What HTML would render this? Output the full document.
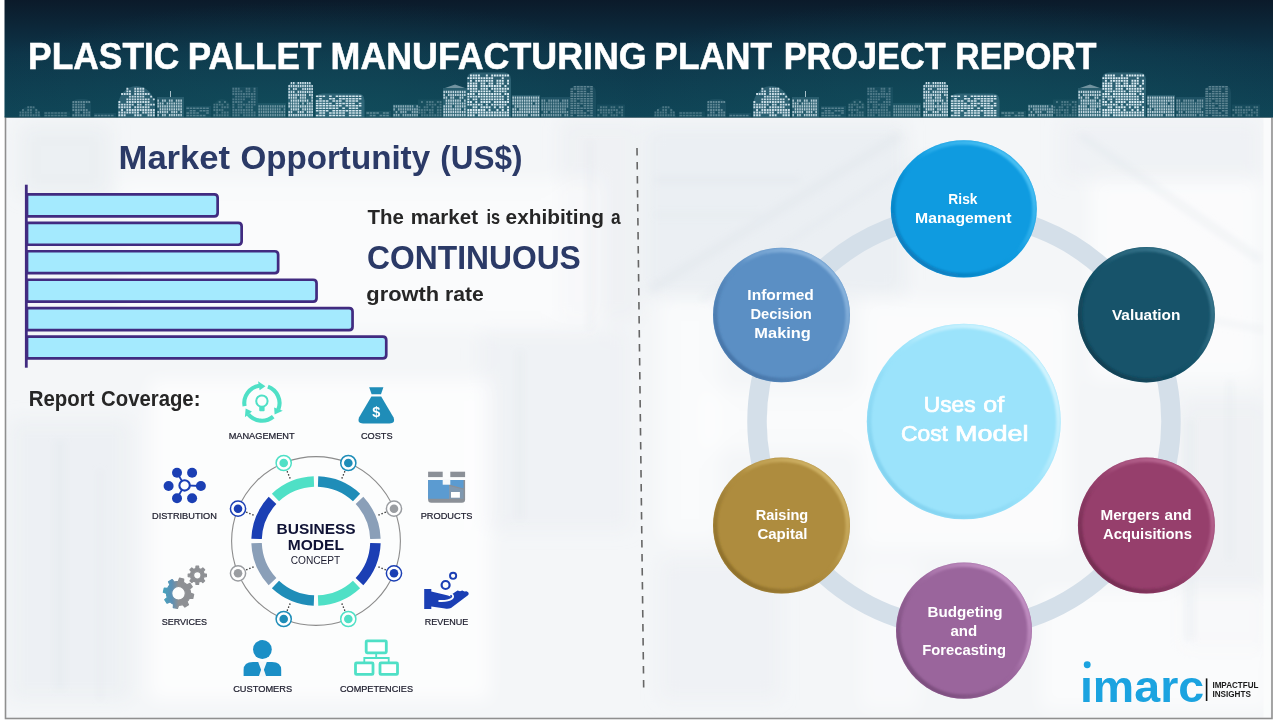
<!DOCTYPE html>
<html lang="en"><head><meta charset="utf-8"><title>Plastic Pallet Manufacturing Plant Project Report</title>
<style>html,body{margin:0;padding:0;background:#fff;width:1280px;height:720px;overflow:hidden}svg{display:block}</style>
</head><body>
<svg width="1280" height="720" viewBox="0 0 1280 720" font-family='"Liberation Sans", sans-serif'><defs><linearGradient id="hdr" x1="0" y1="0" x2="0" y2="1">
<stop offset="0" stop-color="#0b1a2a"/><stop offset="0.45" stop-color="#0d3448"/><stop offset="1" stop-color="#0f4456"/></linearGradient><radialGradient id="hdrv" cx="0.5" cy="1" r="0.62" gradientTransform="translate(0.5 1) scale(1 1.6) translate(-0.5 -1)"><stop offset="0" stop-color="#13525f" stop-opacity=".6"/><stop offset="1" stop-color="#13525f" stop-opacity="0"/></radialGradient><pattern id="w1" width="2.6" height="2.6" patternUnits="userSpaceOnUse"><rect x=".4" y=".4" width="1.8" height="1.8" fill="#e8f4fb"/></pattern><pattern id="w2" width="3" height="2.4" patternUnits="userSpaceOnUse"><rect x=".4" y=".4" width="2.2" height="1.5" fill="#e8f4fb"/></pattern><pattern id="w3" width="2.2" height="3" patternUnits="userSpaceOnUse"><rect x=".3" y=".4" width="1.5" height="2.1" fill="#e8f4fb"/></pattern><filter id="bl" x="-20%" y="-20%" width="140%" height="140%"><feGaussianBlur stdDeviation="9"/></filter><filter id="bl2" x="-20%" y="-20%" width="140%" height="140%"><feGaussianBlur stdDeviation="3"/></filter><clipPath id="pc"><rect x="5.5" y="117" width="1266.5" height="601.5"/></clipPath><g id="sky"><path d="M19 117.5V118.1A11.0 12.100000000000001 0 0 1 41 118.1V117.5Z" fill="#7fb2c6" opacity="0.07"/><path d="M19.4 114.3h1.9v1.9h-1.9zM22.0 114.3h1.9v1.9h-1.9zM24.7 114.3h1.9v1.9h-1.9zM27.3 114.3h1.9v1.9h-1.9zM30.0 114.3h1.9v1.9h-1.9zM32.6 114.3h1.9v1.9h-1.9zM35.3 114.3h1.9v1.9h-1.9zM37.9 114.3h1.9v1.9h-1.9zM19.4 111.6h1.9v1.9h-1.9zM22.0 111.6h1.9v1.9h-1.9zM24.7 111.6h1.9v1.9h-1.9zM27.3 111.6h1.9v1.9h-1.9zM30.0 111.6h1.9v1.9h-1.9zM35.3 111.6h1.9v1.9h-1.9zM37.9 111.6h1.9v1.9h-1.9zM22.0 109.0h1.9v1.9h-1.9zM27.3 109.0h1.9v1.9h-1.9zM30.0 109.0h1.9v1.9h-1.9zM35.3 109.0h1.9v1.9h-1.9zM27.3 106.3h1.9v1.9h-1.9zM30.0 106.3h1.9v1.9h-1.9zM32.6 106.3h1.9v1.9h-1.9z" fill="#e6f3fa" opacity="0.25"/><path d="M44 117.5V111.5H70V117.5Z" fill="#7fb2c6" opacity="0.07"/><path d="M44.4 114.7h2.6v1.5h-2.6zM47.7 114.7h2.6v1.5h-2.6zM51.0 114.7h2.6v1.5h-2.6zM54.3 114.7h2.6v1.5h-2.6zM57.6 114.7h2.6v1.5h-2.6zM60.9 114.7h2.6v1.5h-2.6zM64.2 114.7h2.6v1.5h-2.6zM44.4 112.3h2.6v1.5h-2.6zM47.7 112.3h2.6v1.5h-2.6zM51.0 112.3h2.6v1.5h-2.6zM54.3 112.3h2.6v1.5h-2.6zM57.6 112.3h2.6v1.5h-2.6zM60.9 112.3h2.6v1.5h-2.6zM64.2 112.3h2.6v1.5h-2.6z" fill="#e6f3fa" opacity="0.25"/><path d="M72 117.5V105.33333333333333Q72 99 78.33333333333333 99H84.66666666666667Q91 99 91 105.33333333333333V117.5Z" fill="#7fb2c6" opacity="0.10"/><path d="M72.4 114.3h1.9v1.9h-1.9zM75.1 114.3h1.9v1.9h-1.9zM77.7 114.3h1.9v1.9h-1.9zM80.4 114.3h1.9v1.9h-1.9zM83.0 114.3h1.9v1.9h-1.9zM85.7 114.3h1.9v1.9h-1.9zM88.3 114.3h1.9v1.9h-1.9zM75.1 111.6h1.9v1.9h-1.9zM77.7 111.6h1.9v1.9h-1.9zM83.0 111.6h1.9v1.9h-1.9zM85.7 111.6h1.9v1.9h-1.9zM88.3 111.6h1.9v1.9h-1.9zM72.4 109.0h1.9v1.9h-1.9zM75.1 109.0h1.9v1.9h-1.9zM77.7 109.0h1.9v1.9h-1.9zM80.4 109.0h1.9v1.9h-1.9zM83.0 109.0h1.9v1.9h-1.9zM85.7 109.0h1.9v1.9h-1.9zM72.4 106.3h1.9v1.9h-1.9zM75.1 106.3h1.9v1.9h-1.9zM77.7 106.3h1.9v1.9h-1.9zM80.4 106.3h1.9v1.9h-1.9zM83.0 106.3h1.9v1.9h-1.9zM72.4 103.7h1.9v1.9h-1.9zM75.1 103.7h1.9v1.9h-1.9zM77.7 103.7h1.9v1.9h-1.9zM80.4 103.7h1.9v1.9h-1.9zM83.0 103.7h1.9v1.9h-1.9zM72.4 101.0h1.9v1.9h-1.9zM75.1 101.0h1.9v1.9h-1.9zM77.7 101.0h1.9v1.9h-1.9zM80.4 101.0h1.9v1.9h-1.9zM83.0 101.0h1.9v1.9h-1.9zM85.7 101.0h1.9v1.9h-1.9zM88.3 101.0h1.9v1.9h-1.9z" fill="#e6f3fa" opacity="0.35"/><path d="M94 117.5V113H116V117.5Z" fill="#7fb2c6" opacity="0.09"/><path d="M94.4 114.7h2.6v1.5h-2.6zM97.7 114.7h2.6v1.5h-2.6zM101.0 114.7h2.6v1.5h-2.6zM104.3 114.7h2.6v1.5h-2.6zM107.6 114.7h2.6v1.5h-2.6zM110.9 114.7h2.6v1.5h-2.6z" fill="#e6f3fa" opacity="0.3"/><path d="M118 117.5V106.35A18.5 20.35 0 0 1 155 106.35V117.5Z" fill="#7fb2c6" opacity="0.26"/><path d="M118.4 114.3h1.9v1.9h-1.9zM121.1 114.3h1.9v1.9h-1.9zM123.7 114.3h1.9v1.9h-1.9zM134.3 114.3h1.9v1.9h-1.9zM137.0 114.3h1.9v1.9h-1.9zM139.6 114.3h1.9v1.9h-1.9zM147.6 114.3h1.9v1.9h-1.9zM150.2 114.3h1.9v1.9h-1.9zM152.9 114.3h1.9v1.9h-1.9zM118.4 111.6h1.9v1.9h-1.9zM121.1 111.6h1.9v1.9h-1.9zM123.7 111.6h1.9v1.9h-1.9zM126.4 111.6h1.9v1.9h-1.9zM129.0 111.6h1.9v1.9h-1.9zM131.7 111.6h1.9v1.9h-1.9zM134.3 111.6h1.9v1.9h-1.9zM137.0 111.6h1.9v1.9h-1.9zM142.3 111.6h1.9v1.9h-1.9zM144.9 111.6h1.9v1.9h-1.9zM147.6 111.6h1.9v1.9h-1.9zM150.2 111.6h1.9v1.9h-1.9zM152.9 111.6h1.9v1.9h-1.9zM121.1 109.0h1.9v1.9h-1.9zM126.4 109.0h1.9v1.9h-1.9zM129.0 109.0h1.9v1.9h-1.9zM131.7 109.0h1.9v1.9h-1.9zM134.3 109.0h1.9v1.9h-1.9zM137.0 109.0h1.9v1.9h-1.9zM139.6 109.0h1.9v1.9h-1.9zM142.3 109.0h1.9v1.9h-1.9zM144.9 109.0h1.9v1.9h-1.9zM147.6 109.0h1.9v1.9h-1.9zM150.2 109.0h1.9v1.9h-1.9zM152.9 109.0h1.9v1.9h-1.9zM118.4 106.3h1.9v1.9h-1.9zM121.1 106.3h1.9v1.9h-1.9zM123.7 106.3h1.9v1.9h-1.9zM126.4 106.3h1.9v1.9h-1.9zM129.0 106.3h1.9v1.9h-1.9zM134.3 106.3h1.9v1.9h-1.9zM137.0 106.3h1.9v1.9h-1.9zM139.6 106.3h1.9v1.9h-1.9zM142.3 106.3h1.9v1.9h-1.9zM144.9 106.3h1.9v1.9h-1.9zM147.6 106.3h1.9v1.9h-1.9zM118.4 103.7h1.9v1.9h-1.9zM121.1 103.7h1.9v1.9h-1.9zM123.7 103.7h1.9v1.9h-1.9zM126.4 103.7h1.9v1.9h-1.9zM129.0 103.7h1.9v1.9h-1.9zM131.7 103.7h1.9v1.9h-1.9zM137.0 103.7h1.9v1.9h-1.9zM139.6 103.7h1.9v1.9h-1.9zM144.9 103.7h1.9v1.9h-1.9zM147.6 103.7h1.9v1.9h-1.9zM150.2 103.7h1.9v1.9h-1.9zM152.9 103.7h1.9v1.9h-1.9zM118.4 101.0h1.9v1.9h-1.9zM126.4 101.0h1.9v1.9h-1.9zM129.0 101.0h1.9v1.9h-1.9zM131.7 101.0h1.9v1.9h-1.9zM134.3 101.0h1.9v1.9h-1.9zM137.0 101.0h1.9v1.9h-1.9zM139.6 101.0h1.9v1.9h-1.9zM142.3 101.0h1.9v1.9h-1.9zM144.9 101.0h1.9v1.9h-1.9zM147.6 101.0h1.9v1.9h-1.9zM126.4 98.4h1.9v1.9h-1.9zM129.0 98.4h1.9v1.9h-1.9zM131.7 98.4h1.9v1.9h-1.9zM134.3 98.4h1.9v1.9h-1.9zM137.0 98.4h1.9v1.9h-1.9zM139.6 98.4h1.9v1.9h-1.9zM142.3 98.4h1.9v1.9h-1.9zM144.9 98.4h1.9v1.9h-1.9zM147.6 98.4h1.9v1.9h-1.9zM152.9 98.4h1.9v1.9h-1.9zM129.0 95.7h1.9v1.9h-1.9zM131.7 95.7h1.9v1.9h-1.9zM134.3 95.7h1.9v1.9h-1.9zM137.0 95.7h1.9v1.9h-1.9zM139.6 95.7h1.9v1.9h-1.9zM142.3 95.7h1.9v1.9h-1.9zM150.2 95.7h1.9v1.9h-1.9zM121.1 93.1h1.9v1.9h-1.9zM123.7 93.1h1.9v1.9h-1.9zM126.4 93.1h1.9v1.9h-1.9zM129.0 93.1h1.9v1.9h-1.9zM134.3 93.1h1.9v1.9h-1.9zM137.0 93.1h1.9v1.9h-1.9zM139.6 93.1h1.9v1.9h-1.9zM142.3 93.1h1.9v1.9h-1.9zM144.9 93.1h1.9v1.9h-1.9zM147.6 93.1h1.9v1.9h-1.9zM126.4 90.4h1.9v1.9h-1.9zM129.0 90.4h1.9v1.9h-1.9zM134.3 90.4h1.9v1.9h-1.9zM137.0 90.4h1.9v1.9h-1.9zM139.6 90.4h1.9v1.9h-1.9zM142.3 90.4h1.9v1.9h-1.9zM126.4 87.8h1.9v1.9h-1.9zM134.3 87.8h1.9v1.9h-1.9zM137.0 87.8h1.9v1.9h-1.9zM139.6 87.8h1.9v1.9h-1.9zM142.3 87.8h1.9v1.9h-1.9z" fill="#e6f3fa" opacity="0.85"/><path d="M157 117.5V97H184V117.5Z" fill="#7fb2c6" opacity="0.22"/><path d="M157.4 114.0h1.5v2.2h-1.5zM162.0 114.0h1.5v2.2h-1.5zM164.3 114.0h1.5v2.2h-1.5zM168.9 114.0h1.5v2.2h-1.5zM171.2 114.0h1.5v2.2h-1.5zM173.5 114.0h1.5v2.2h-1.5zM175.8 114.0h1.5v2.2h-1.5zM178.1 114.0h1.5v2.2h-1.5zM180.4 114.0h1.5v2.2h-1.5zM157.4 111.1h1.5v2.2h-1.5zM159.7 111.1h1.5v2.2h-1.5zM162.0 111.1h1.5v2.2h-1.5zM164.3 111.1h1.5v2.2h-1.5zM166.6 111.1h1.5v2.2h-1.5zM171.2 111.1h1.5v2.2h-1.5zM173.5 111.1h1.5v2.2h-1.5zM175.8 111.1h1.5v2.2h-1.5zM180.4 111.1h1.5v2.2h-1.5zM159.7 108.2h1.5v2.2h-1.5zM162.0 108.2h1.5v2.2h-1.5zM164.3 108.2h1.5v2.2h-1.5zM166.6 108.2h1.5v2.2h-1.5zM168.9 108.2h1.5v2.2h-1.5zM171.2 108.2h1.5v2.2h-1.5zM173.5 108.2h1.5v2.2h-1.5zM175.8 108.2h1.5v2.2h-1.5zM178.1 108.2h1.5v2.2h-1.5zM180.4 108.2h1.5v2.2h-1.5zM157.4 105.3h1.5v2.2h-1.5zM159.7 105.3h1.5v2.2h-1.5zM162.0 105.3h1.5v2.2h-1.5zM164.3 105.3h1.5v2.2h-1.5zM166.6 105.3h1.5v2.2h-1.5zM168.9 105.3h1.5v2.2h-1.5zM171.2 105.3h1.5v2.2h-1.5zM173.5 105.3h1.5v2.2h-1.5zM175.8 105.3h1.5v2.2h-1.5zM178.1 105.3h1.5v2.2h-1.5zM180.4 105.3h1.5v2.2h-1.5zM157.4 102.4h1.5v2.2h-1.5zM159.7 102.4h1.5v2.2h-1.5zM162.0 102.4h1.5v2.2h-1.5zM166.6 102.4h1.5v2.2h-1.5zM168.9 102.4h1.5v2.2h-1.5zM171.2 102.4h1.5v2.2h-1.5zM173.5 102.4h1.5v2.2h-1.5zM175.8 102.4h1.5v2.2h-1.5zM178.1 102.4h1.5v2.2h-1.5zM180.4 102.4h1.5v2.2h-1.5zM157.4 99.5h1.5v2.2h-1.5zM162.0 99.5h1.5v2.2h-1.5zM164.3 99.5h1.5v2.2h-1.5zM168.9 99.5h1.5v2.2h-1.5zM171.2 99.5h1.5v2.2h-1.5zM175.8 99.5h1.5v2.2h-1.5zM178.1 99.5h1.5v2.2h-1.5zM180.4 99.5h1.5v2.2h-1.5z" fill="#e6f3fa" opacity="0.75"/><path d="M186 117.5V106H211V117.5Z" fill="#7fb2c6" opacity="0.09"/><path d="M186.4 114.7h2.6v1.5h-2.6zM189.7 114.7h2.6v1.5h-2.6zM193.0 114.7h2.6v1.5h-2.6zM196.3 114.7h2.6v1.5h-2.6zM199.6 114.7h2.6v1.5h-2.6zM202.9 114.7h2.6v1.5h-2.6zM186.4 112.3h2.6v1.5h-2.6zM189.7 112.3h2.6v1.5h-2.6zM193.0 112.3h2.6v1.5h-2.6zM196.3 112.3h2.6v1.5h-2.6zM206.2 112.3h2.6v1.5h-2.6zM189.7 109.9h2.6v1.5h-2.6zM193.0 109.9h2.6v1.5h-2.6zM199.6 109.9h2.6v1.5h-2.6zM202.9 109.9h2.6v1.5h-2.6zM206.2 109.9h2.6v1.5h-2.6zM186.4 107.5h2.6v1.5h-2.6zM189.7 107.5h2.6v1.5h-2.6zM193.0 107.5h2.6v1.5h-2.6zM196.3 107.5h2.6v1.5h-2.6zM199.6 107.5h2.6v1.5h-2.6zM202.9 107.5h2.6v1.5h-2.6zM206.2 107.5h2.6v1.5h-2.6z" fill="#e6f3fa" opacity="0.3"/><path d="M213 117.5V108.9A9.0 9.9 0 0 1 231 108.9V117.5Z" fill="#7fb2c6" opacity="0.07"/><path d="M213.4 114.3h1.9v1.9h-1.9zM216.1 114.3h1.9v1.9h-1.9zM218.7 114.3h1.9v1.9h-1.9zM221.4 114.3h1.9v1.9h-1.9zM224.0 114.3h1.9v1.9h-1.9zM226.7 114.3h1.9v1.9h-1.9zM216.1 111.6h1.9v1.9h-1.9zM221.4 111.6h1.9v1.9h-1.9zM224.0 111.6h1.9v1.9h-1.9zM226.7 111.6h1.9v1.9h-1.9zM213.4 109.0h1.9v1.9h-1.9zM216.1 109.0h1.9v1.9h-1.9zM218.7 109.0h1.9v1.9h-1.9zM221.4 109.0h1.9v1.9h-1.9zM213.4 106.3h1.9v1.9h-1.9zM216.1 106.3h1.9v1.9h-1.9zM221.4 106.3h1.9v1.9h-1.9zM224.0 106.3h1.9v1.9h-1.9zM226.7 106.3h1.9v1.9h-1.9zM213.4 103.7h1.9v1.9h-1.9zM216.1 103.7h1.9v1.9h-1.9zM218.7 103.7h1.9v1.9h-1.9zM221.4 103.7h1.9v1.9h-1.9zM226.7 103.7h1.9v1.9h-1.9zM218.7 101.0h1.9v1.9h-1.9zM224.0 101.0h1.9v1.9h-1.9z" fill="#e6f3fa" opacity="0.25"/><path d="M232 117.5V87H258V117.5Z" fill="#7fb2c6" opacity="0.08"/><path d="M232.4 114.3h1.9v1.9h-1.9zM235.1 114.3h1.9v1.9h-1.9zM237.7 114.3h1.9v1.9h-1.9zM243.0 114.3h1.9v1.9h-1.9zM245.7 114.3h1.9v1.9h-1.9zM248.3 114.3h1.9v1.9h-1.9zM251.0 114.3h1.9v1.9h-1.9zM253.6 114.3h1.9v1.9h-1.9zM232.4 111.6h1.9v1.9h-1.9zM235.1 111.6h1.9v1.9h-1.9zM237.7 111.6h1.9v1.9h-1.9zM240.4 111.6h1.9v1.9h-1.9zM243.0 111.6h1.9v1.9h-1.9zM245.7 111.6h1.9v1.9h-1.9zM248.3 111.6h1.9v1.9h-1.9zM251.0 111.6h1.9v1.9h-1.9zM253.6 111.6h1.9v1.9h-1.9zM232.4 109.0h1.9v1.9h-1.9zM235.1 109.0h1.9v1.9h-1.9zM237.7 109.0h1.9v1.9h-1.9zM240.4 109.0h1.9v1.9h-1.9zM243.0 109.0h1.9v1.9h-1.9zM245.7 109.0h1.9v1.9h-1.9zM248.3 109.0h1.9v1.9h-1.9zM251.0 109.0h1.9v1.9h-1.9zM232.4 106.3h1.9v1.9h-1.9zM237.7 106.3h1.9v1.9h-1.9zM240.4 106.3h1.9v1.9h-1.9zM245.7 106.3h1.9v1.9h-1.9zM248.3 106.3h1.9v1.9h-1.9zM251.0 106.3h1.9v1.9h-1.9zM232.4 103.7h1.9v1.9h-1.9zM237.7 103.7h1.9v1.9h-1.9zM240.4 103.7h1.9v1.9h-1.9zM243.0 103.7h1.9v1.9h-1.9zM245.7 103.7h1.9v1.9h-1.9zM248.3 103.7h1.9v1.9h-1.9zM251.0 103.7h1.9v1.9h-1.9zM253.6 103.7h1.9v1.9h-1.9zM232.4 101.0h1.9v1.9h-1.9zM235.1 101.0h1.9v1.9h-1.9zM237.7 101.0h1.9v1.9h-1.9zM240.4 101.0h1.9v1.9h-1.9zM248.3 101.0h1.9v1.9h-1.9zM251.0 101.0h1.9v1.9h-1.9zM253.6 101.0h1.9v1.9h-1.9zM232.4 98.4h1.9v1.9h-1.9zM235.1 98.4h1.9v1.9h-1.9zM237.7 98.4h1.9v1.9h-1.9zM240.4 98.4h1.9v1.9h-1.9zM243.0 98.4h1.9v1.9h-1.9zM251.0 98.4h1.9v1.9h-1.9zM253.6 98.4h1.9v1.9h-1.9zM235.1 95.7h1.9v1.9h-1.9zM237.7 95.7h1.9v1.9h-1.9zM240.4 95.7h1.9v1.9h-1.9zM243.0 95.7h1.9v1.9h-1.9zM245.7 95.7h1.9v1.9h-1.9zM248.3 95.7h1.9v1.9h-1.9zM251.0 95.7h1.9v1.9h-1.9zM253.6 95.7h1.9v1.9h-1.9zM232.4 93.1h1.9v1.9h-1.9zM235.1 93.1h1.9v1.9h-1.9zM237.7 93.1h1.9v1.9h-1.9zM240.4 93.1h1.9v1.9h-1.9zM243.0 93.1h1.9v1.9h-1.9zM245.7 93.1h1.9v1.9h-1.9zM248.3 93.1h1.9v1.9h-1.9zM251.0 93.1h1.9v1.9h-1.9zM253.6 93.1h1.9v1.9h-1.9zM232.4 90.4h1.9v1.9h-1.9zM235.1 90.4h1.9v1.9h-1.9zM237.7 90.4h1.9v1.9h-1.9zM240.4 90.4h1.9v1.9h-1.9zM245.7 90.4h1.9v1.9h-1.9zM248.3 90.4h1.9v1.9h-1.9zM253.6 90.4h1.9v1.9h-1.9zM232.4 87.8h1.9v1.9h-1.9zM235.1 87.8h1.9v1.9h-1.9zM237.7 87.8h1.9v1.9h-1.9zM245.7 87.8h1.9v1.9h-1.9zM248.3 87.8h1.9v1.9h-1.9zM253.6 87.8h1.9v1.9h-1.9z" fill="#e6f3fa" opacity="0.26"/><path d="M258 117.5V103H286V117.5Z" fill="#7fb2c6" opacity="0.12"/><path d="M258.4 114.0h1.5v2.2h-1.5zM260.7 114.0h1.5v2.2h-1.5zM263.0 114.0h1.5v2.2h-1.5zM265.3 114.0h1.5v2.2h-1.5zM267.6 114.0h1.5v2.2h-1.5zM269.9 114.0h1.5v2.2h-1.5zM272.2 114.0h1.5v2.2h-1.5zM274.5 114.0h1.5v2.2h-1.5zM276.8 114.0h1.5v2.2h-1.5zM279.1 114.0h1.5v2.2h-1.5zM281.4 114.0h1.5v2.2h-1.5zM283.7 114.0h1.5v2.2h-1.5zM258.4 111.1h1.5v2.2h-1.5zM260.7 111.1h1.5v2.2h-1.5zM263.0 111.1h1.5v2.2h-1.5zM265.3 111.1h1.5v2.2h-1.5zM267.6 111.1h1.5v2.2h-1.5zM269.9 111.1h1.5v2.2h-1.5zM272.2 111.1h1.5v2.2h-1.5zM274.5 111.1h1.5v2.2h-1.5zM276.8 111.1h1.5v2.2h-1.5zM279.1 111.1h1.5v2.2h-1.5zM281.4 111.1h1.5v2.2h-1.5zM283.7 111.1h1.5v2.2h-1.5zM258.4 108.2h1.5v2.2h-1.5zM260.7 108.2h1.5v2.2h-1.5zM263.0 108.2h1.5v2.2h-1.5zM265.3 108.2h1.5v2.2h-1.5zM267.6 108.2h1.5v2.2h-1.5zM269.9 108.2h1.5v2.2h-1.5zM272.2 108.2h1.5v2.2h-1.5zM274.5 108.2h1.5v2.2h-1.5zM276.8 108.2h1.5v2.2h-1.5zM279.1 108.2h1.5v2.2h-1.5zM283.7 108.2h1.5v2.2h-1.5zM258.4 105.3h1.5v2.2h-1.5zM260.7 105.3h1.5v2.2h-1.5zM263.0 105.3h1.5v2.2h-1.5zM265.3 105.3h1.5v2.2h-1.5zM267.6 105.3h1.5v2.2h-1.5zM269.9 105.3h1.5v2.2h-1.5zM272.2 105.3h1.5v2.2h-1.5zM274.5 105.3h1.5v2.2h-1.5zM276.8 105.3h1.5v2.2h-1.5zM279.1 105.3h1.5v2.2h-1.5zM281.4 105.3h1.5v2.2h-1.5zM283.7 105.3h1.5v2.2h-1.5z" fill="#e6f3fa" opacity="0.4"/><path d="M288 117.5V89Q288 82 295 82H306Q313 82 313 89V117.5Z" fill="#7fb2c6" opacity="0.26"/><path d="M288.4 114.0h1.5v2.2h-1.5zM290.7 114.0h1.5v2.2h-1.5zM293.0 114.0h1.5v2.2h-1.5zM295.3 114.0h1.5v2.2h-1.5zM297.6 114.0h1.5v2.2h-1.5zM299.9 114.0h1.5v2.2h-1.5zM302.2 114.0h1.5v2.2h-1.5zM304.5 114.0h1.5v2.2h-1.5zM306.8 114.0h1.5v2.2h-1.5zM309.1 114.0h1.5v2.2h-1.5zM311.4 114.0h1.5v2.2h-1.5zM288.4 111.1h1.5v2.2h-1.5zM290.7 111.1h1.5v2.2h-1.5zM297.6 111.1h1.5v2.2h-1.5zM299.9 111.1h1.5v2.2h-1.5zM302.2 111.1h1.5v2.2h-1.5zM306.8 111.1h1.5v2.2h-1.5zM309.1 111.1h1.5v2.2h-1.5zM311.4 111.1h1.5v2.2h-1.5zM290.7 108.2h1.5v2.2h-1.5zM293.0 108.2h1.5v2.2h-1.5zM295.3 108.2h1.5v2.2h-1.5zM297.6 108.2h1.5v2.2h-1.5zM302.2 108.2h1.5v2.2h-1.5zM304.5 108.2h1.5v2.2h-1.5zM306.8 108.2h1.5v2.2h-1.5zM309.1 108.2h1.5v2.2h-1.5zM311.4 108.2h1.5v2.2h-1.5zM288.4 105.3h1.5v2.2h-1.5zM290.7 105.3h1.5v2.2h-1.5zM293.0 105.3h1.5v2.2h-1.5zM295.3 105.3h1.5v2.2h-1.5zM297.6 105.3h1.5v2.2h-1.5zM299.9 105.3h1.5v2.2h-1.5zM302.2 105.3h1.5v2.2h-1.5zM304.5 105.3h1.5v2.2h-1.5zM306.8 105.3h1.5v2.2h-1.5zM309.1 105.3h1.5v2.2h-1.5zM311.4 105.3h1.5v2.2h-1.5zM288.4 102.4h1.5v2.2h-1.5zM290.7 102.4h1.5v2.2h-1.5zM293.0 102.4h1.5v2.2h-1.5zM295.3 102.4h1.5v2.2h-1.5zM297.6 102.4h1.5v2.2h-1.5zM302.2 102.4h1.5v2.2h-1.5zM306.8 102.4h1.5v2.2h-1.5zM309.1 102.4h1.5v2.2h-1.5zM311.4 102.4h1.5v2.2h-1.5zM290.7 99.5h1.5v2.2h-1.5zM293.0 99.5h1.5v2.2h-1.5zM295.3 99.5h1.5v2.2h-1.5zM297.6 99.5h1.5v2.2h-1.5zM299.9 99.5h1.5v2.2h-1.5zM302.2 99.5h1.5v2.2h-1.5zM304.5 99.5h1.5v2.2h-1.5zM306.8 99.5h1.5v2.2h-1.5zM311.4 99.5h1.5v2.2h-1.5zM288.4 96.6h1.5v2.2h-1.5zM290.7 96.6h1.5v2.2h-1.5zM293.0 96.6h1.5v2.2h-1.5zM295.3 96.6h1.5v2.2h-1.5zM299.9 96.6h1.5v2.2h-1.5zM302.2 96.6h1.5v2.2h-1.5zM304.5 96.6h1.5v2.2h-1.5zM311.4 96.6h1.5v2.2h-1.5zM288.4 93.7h1.5v2.2h-1.5zM290.7 93.7h1.5v2.2h-1.5zM293.0 93.7h1.5v2.2h-1.5zM295.3 93.7h1.5v2.2h-1.5zM297.6 93.7h1.5v2.2h-1.5zM299.9 93.7h1.5v2.2h-1.5zM302.2 93.7h1.5v2.2h-1.5zM304.5 93.7h1.5v2.2h-1.5zM309.1 93.7h1.5v2.2h-1.5zM311.4 93.7h1.5v2.2h-1.5zM288.4 90.8h1.5v2.2h-1.5zM290.7 90.8h1.5v2.2h-1.5zM293.0 90.8h1.5v2.2h-1.5zM297.6 90.8h1.5v2.2h-1.5zM299.9 90.8h1.5v2.2h-1.5zM302.2 90.8h1.5v2.2h-1.5zM304.5 90.8h1.5v2.2h-1.5zM306.8 90.8h1.5v2.2h-1.5zM309.1 90.8h1.5v2.2h-1.5zM311.4 90.8h1.5v2.2h-1.5zM288.4 87.9h1.5v2.2h-1.5zM293.0 87.9h1.5v2.2h-1.5zM295.3 87.9h1.5v2.2h-1.5zM302.2 87.9h1.5v2.2h-1.5zM304.5 87.9h1.5v2.2h-1.5zM306.8 87.9h1.5v2.2h-1.5zM309.1 87.9h1.5v2.2h-1.5zM311.4 87.9h1.5v2.2h-1.5zM288.4 85.0h1.5v2.2h-1.5zM290.7 85.0h1.5v2.2h-1.5zM293.0 85.0h1.5v2.2h-1.5zM295.3 85.0h1.5v2.2h-1.5zM297.6 85.0h1.5v2.2h-1.5zM299.9 85.0h1.5v2.2h-1.5zM302.2 85.0h1.5v2.2h-1.5zM304.5 85.0h1.5v2.2h-1.5zM306.8 85.0h1.5v2.2h-1.5zM309.1 85.0h1.5v2.2h-1.5zM311.4 85.0h1.5v2.2h-1.5zM290.7 82.1h1.5v2.2h-1.5zM293.0 82.1h1.5v2.2h-1.5zM297.6 82.1h1.5v2.2h-1.5zM299.9 82.1h1.5v2.2h-1.5zM302.2 82.1h1.5v2.2h-1.5zM304.5 82.1h1.5v2.2h-1.5zM306.8 82.1h1.5v2.2h-1.5zM309.1 82.1h1.5v2.2h-1.5z" fill="#e6f3fa" opacity="0.85"/><path d="M315.5 117.5V100.5Q315.5 93.5 322.5 93.5H357.5Q364.5 93.5 364.5 100.5V117.5Z" fill="#7fb2c6" opacity="0.27"/><path d="M315.9 114.7h2.6v1.5h-2.6zM319.2 114.7h2.6v1.5h-2.6zM322.5 114.7h2.6v1.5h-2.6zM329.1 114.7h2.6v1.5h-2.6zM332.4 114.7h2.6v1.5h-2.6zM335.7 114.7h2.6v1.5h-2.6zM339.0 114.7h2.6v1.5h-2.6zM342.3 114.7h2.6v1.5h-2.6zM348.9 114.7h2.6v1.5h-2.6zM352.2 114.7h2.6v1.5h-2.6zM355.5 114.7h2.6v1.5h-2.6zM358.8 114.7h2.6v1.5h-2.6zM319.2 112.3h2.6v1.5h-2.6zM322.5 112.3h2.6v1.5h-2.6zM329.1 112.3h2.6v1.5h-2.6zM332.4 112.3h2.6v1.5h-2.6zM335.7 112.3h2.6v1.5h-2.6zM339.0 112.3h2.6v1.5h-2.6zM342.3 112.3h2.6v1.5h-2.6zM348.9 112.3h2.6v1.5h-2.6zM352.2 112.3h2.6v1.5h-2.6zM355.5 112.3h2.6v1.5h-2.6zM358.8 112.3h2.6v1.5h-2.6zM315.9 109.9h2.6v1.5h-2.6zM319.2 109.9h2.6v1.5h-2.6zM322.5 109.9h2.6v1.5h-2.6zM325.8 109.9h2.6v1.5h-2.6zM332.4 109.9h2.6v1.5h-2.6zM335.7 109.9h2.6v1.5h-2.6zM339.0 109.9h2.6v1.5h-2.6zM342.3 109.9h2.6v1.5h-2.6zM345.6 109.9h2.6v1.5h-2.6zM348.9 109.9h2.6v1.5h-2.6zM352.2 109.9h2.6v1.5h-2.6zM355.5 109.9h2.6v1.5h-2.6zM358.8 109.9h2.6v1.5h-2.6zM315.9 107.5h2.6v1.5h-2.6zM319.2 107.5h2.6v1.5h-2.6zM322.5 107.5h2.6v1.5h-2.6zM325.8 107.5h2.6v1.5h-2.6zM329.1 107.5h2.6v1.5h-2.6zM332.4 107.5h2.6v1.5h-2.6zM335.7 107.5h2.6v1.5h-2.6zM342.3 107.5h2.6v1.5h-2.6zM348.9 107.5h2.6v1.5h-2.6zM352.2 107.5h2.6v1.5h-2.6zM355.5 107.5h2.6v1.5h-2.6zM315.9 105.1h2.6v1.5h-2.6zM319.2 105.1h2.6v1.5h-2.6zM322.5 105.1h2.6v1.5h-2.6zM325.8 105.1h2.6v1.5h-2.6zM329.1 105.1h2.6v1.5h-2.6zM332.4 105.1h2.6v1.5h-2.6zM335.7 105.1h2.6v1.5h-2.6zM339.0 105.1h2.6v1.5h-2.6zM345.6 105.1h2.6v1.5h-2.6zM348.9 105.1h2.6v1.5h-2.6zM352.2 105.1h2.6v1.5h-2.6zM355.5 105.1h2.6v1.5h-2.6zM358.8 105.1h2.6v1.5h-2.6zM315.9 102.7h2.6v1.5h-2.6zM319.2 102.7h2.6v1.5h-2.6zM322.5 102.7h2.6v1.5h-2.6zM325.8 102.7h2.6v1.5h-2.6zM329.1 102.7h2.6v1.5h-2.6zM335.7 102.7h2.6v1.5h-2.6zM339.0 102.7h2.6v1.5h-2.6zM342.3 102.7h2.6v1.5h-2.6zM345.6 102.7h2.6v1.5h-2.6zM348.9 102.7h2.6v1.5h-2.6zM352.2 102.7h2.6v1.5h-2.6zM358.8 102.7h2.6v1.5h-2.6zM315.9 100.3h2.6v1.5h-2.6zM319.2 100.3h2.6v1.5h-2.6zM322.5 100.3h2.6v1.5h-2.6zM325.8 100.3h2.6v1.5h-2.6zM332.4 100.3h2.6v1.5h-2.6zM335.7 100.3h2.6v1.5h-2.6zM339.0 100.3h2.6v1.5h-2.6zM345.6 100.3h2.6v1.5h-2.6zM348.9 100.3h2.6v1.5h-2.6zM352.2 100.3h2.6v1.5h-2.6zM355.5 100.3h2.6v1.5h-2.6zM319.2 97.9h2.6v1.5h-2.6zM329.1 97.9h2.6v1.5h-2.6zM332.4 97.9h2.6v1.5h-2.6zM339.0 97.9h2.6v1.5h-2.6zM342.3 97.9h2.6v1.5h-2.6zM345.6 97.9h2.6v1.5h-2.6zM348.9 97.9h2.6v1.5h-2.6zM352.2 97.9h2.6v1.5h-2.6zM355.5 97.9h2.6v1.5h-2.6zM358.8 97.9h2.6v1.5h-2.6zM315.9 95.5h2.6v1.5h-2.6zM319.2 95.5h2.6v1.5h-2.6zM322.5 95.5h2.6v1.5h-2.6zM329.1 95.5h2.6v1.5h-2.6zM335.7 95.5h2.6v1.5h-2.6zM339.0 95.5h2.6v1.5h-2.6zM342.3 95.5h2.6v1.5h-2.6zM345.6 95.5h2.6v1.5h-2.6zM348.9 95.5h2.6v1.5h-2.6zM352.2 95.5h2.6v1.5h-2.6zM355.5 95.5h2.6v1.5h-2.6zM358.8 95.5h2.6v1.5h-2.6z" fill="#e6f3fa" opacity="0.9"/><path d="M366 117.5V111H391V117.5Z" fill="#7fb2c6" opacity="0.10"/><path d="M369.7 114.7h2.6v1.5h-2.6zM373.0 114.7h2.6v1.5h-2.6zM379.6 114.7h2.6v1.5h-2.6zM382.9 114.7h2.6v1.5h-2.6zM386.2 114.7h2.6v1.5h-2.6zM366.4 112.3h2.6v1.5h-2.6zM369.7 112.3h2.6v1.5h-2.6zM373.0 112.3h2.6v1.5h-2.6zM376.3 112.3h2.6v1.5h-2.6zM382.9 112.3h2.6v1.5h-2.6zM386.2 112.3h2.6v1.5h-2.6z" fill="#e6f3fa" opacity="0.35"/><path d="M393 117.5V104.5H418V117.5Z" fill="#7fb2c6" opacity="0.17"/><path d="M393.4 114.0h1.5v2.2h-1.5zM395.7 114.0h1.5v2.2h-1.5zM398.0 114.0h1.5v2.2h-1.5zM402.6 114.0h1.5v2.2h-1.5zM404.9 114.0h1.5v2.2h-1.5zM407.2 114.0h1.5v2.2h-1.5zM409.5 114.0h1.5v2.2h-1.5zM411.8 114.0h1.5v2.2h-1.5zM414.1 114.0h1.5v2.2h-1.5zM416.4 114.0h1.5v2.2h-1.5zM395.7 111.1h1.5v2.2h-1.5zM400.3 111.1h1.5v2.2h-1.5zM402.6 111.1h1.5v2.2h-1.5zM404.9 111.1h1.5v2.2h-1.5zM411.8 111.1h1.5v2.2h-1.5zM414.1 111.1h1.5v2.2h-1.5zM416.4 111.1h1.5v2.2h-1.5zM393.4 108.2h1.5v2.2h-1.5zM398.0 108.2h1.5v2.2h-1.5zM400.3 108.2h1.5v2.2h-1.5zM402.6 108.2h1.5v2.2h-1.5zM404.9 108.2h1.5v2.2h-1.5zM407.2 108.2h1.5v2.2h-1.5zM409.5 108.2h1.5v2.2h-1.5zM411.8 108.2h1.5v2.2h-1.5zM414.1 108.2h1.5v2.2h-1.5zM416.4 108.2h1.5v2.2h-1.5zM393.4 105.3h1.5v2.2h-1.5zM395.7 105.3h1.5v2.2h-1.5zM398.0 105.3h1.5v2.2h-1.5zM400.3 105.3h1.5v2.2h-1.5zM402.6 105.3h1.5v2.2h-1.5zM404.9 105.3h1.5v2.2h-1.5zM407.2 105.3h1.5v2.2h-1.5zM409.5 105.3h1.5v2.2h-1.5zM411.8 105.3h1.5v2.2h-1.5zM416.4 105.3h1.5v2.2h-1.5z" fill="#e6f3fa" opacity="0.55"/><path d="M418 117.5V99.5H443V117.5Z" fill="#7fb2c6" opacity="0.07"/><path d="M421.0 114.3h1.9v1.9h-1.9zM423.7 114.3h1.9v1.9h-1.9zM426.3 114.3h1.9v1.9h-1.9zM429.0 114.3h1.9v1.9h-1.9zM431.6 114.3h1.9v1.9h-1.9zM434.3 114.3h1.9v1.9h-1.9zM436.9 114.3h1.9v1.9h-1.9zM439.6 114.3h1.9v1.9h-1.9zM418.4 111.6h1.9v1.9h-1.9zM421.0 111.6h1.9v1.9h-1.9zM423.7 111.6h1.9v1.9h-1.9zM429.0 111.6h1.9v1.9h-1.9zM431.6 111.6h1.9v1.9h-1.9zM436.9 111.6h1.9v1.9h-1.9zM439.6 111.6h1.9v1.9h-1.9zM418.4 109.0h1.9v1.9h-1.9zM421.0 109.0h1.9v1.9h-1.9zM423.7 109.0h1.9v1.9h-1.9zM426.3 109.0h1.9v1.9h-1.9zM429.0 109.0h1.9v1.9h-1.9zM431.6 109.0h1.9v1.9h-1.9zM436.9 109.0h1.9v1.9h-1.9zM439.6 109.0h1.9v1.9h-1.9zM418.4 106.3h1.9v1.9h-1.9zM423.7 106.3h1.9v1.9h-1.9zM426.3 106.3h1.9v1.9h-1.9zM431.6 106.3h1.9v1.9h-1.9zM436.9 106.3h1.9v1.9h-1.9zM439.6 106.3h1.9v1.9h-1.9zM426.3 103.7h1.9v1.9h-1.9zM429.0 103.7h1.9v1.9h-1.9zM431.6 103.7h1.9v1.9h-1.9zM434.3 103.7h1.9v1.9h-1.9zM439.6 103.7h1.9v1.9h-1.9zM421.0 101.0h1.9v1.9h-1.9zM426.3 101.0h1.9v1.9h-1.9zM429.0 101.0h1.9v1.9h-1.9zM431.6 101.0h1.9v1.9h-1.9zM436.9 101.0h1.9v1.9h-1.9zM439.6 101.0h1.9v1.9h-1.9z" fill="#e6f3fa" opacity="0.25"/><path d="M443 117.5V88H467V117.5Z" fill="#7fb2c6" opacity="0.24"/><path d="M443.4 114.0h1.5v2.2h-1.5zM445.7 114.0h1.5v2.2h-1.5zM448.0 114.0h1.5v2.2h-1.5zM450.3 114.0h1.5v2.2h-1.5zM452.6 114.0h1.5v2.2h-1.5zM454.9 114.0h1.5v2.2h-1.5zM457.2 114.0h1.5v2.2h-1.5zM459.5 114.0h1.5v2.2h-1.5zM461.8 114.0h1.5v2.2h-1.5zM464.1 114.0h1.5v2.2h-1.5zM443.4 111.1h1.5v2.2h-1.5zM445.7 111.1h1.5v2.2h-1.5zM448.0 111.1h1.5v2.2h-1.5zM450.3 111.1h1.5v2.2h-1.5zM452.6 111.1h1.5v2.2h-1.5zM454.9 111.1h1.5v2.2h-1.5zM457.2 111.1h1.5v2.2h-1.5zM459.5 111.1h1.5v2.2h-1.5zM461.8 111.1h1.5v2.2h-1.5zM464.1 111.1h1.5v2.2h-1.5zM443.4 108.2h1.5v2.2h-1.5zM445.7 108.2h1.5v2.2h-1.5zM448.0 108.2h1.5v2.2h-1.5zM450.3 108.2h1.5v2.2h-1.5zM452.6 108.2h1.5v2.2h-1.5zM454.9 108.2h1.5v2.2h-1.5zM457.2 108.2h1.5v2.2h-1.5zM459.5 108.2h1.5v2.2h-1.5zM464.1 108.2h1.5v2.2h-1.5zM443.4 105.3h1.5v2.2h-1.5zM445.7 105.3h1.5v2.2h-1.5zM448.0 105.3h1.5v2.2h-1.5zM450.3 105.3h1.5v2.2h-1.5zM454.9 105.3h1.5v2.2h-1.5zM457.2 105.3h1.5v2.2h-1.5zM459.5 105.3h1.5v2.2h-1.5zM461.8 105.3h1.5v2.2h-1.5zM464.1 105.3h1.5v2.2h-1.5zM445.7 102.4h1.5v2.2h-1.5zM448.0 102.4h1.5v2.2h-1.5zM450.3 102.4h1.5v2.2h-1.5zM452.6 102.4h1.5v2.2h-1.5zM454.9 102.4h1.5v2.2h-1.5zM457.2 102.4h1.5v2.2h-1.5zM459.5 102.4h1.5v2.2h-1.5zM461.8 102.4h1.5v2.2h-1.5zM464.1 102.4h1.5v2.2h-1.5zM445.7 99.5h1.5v2.2h-1.5zM448.0 99.5h1.5v2.2h-1.5zM450.3 99.5h1.5v2.2h-1.5zM452.6 99.5h1.5v2.2h-1.5zM454.9 99.5h1.5v2.2h-1.5zM457.2 99.5h1.5v2.2h-1.5zM459.5 99.5h1.5v2.2h-1.5zM464.1 99.5h1.5v2.2h-1.5zM443.4 96.6h1.5v2.2h-1.5zM445.7 96.6h1.5v2.2h-1.5zM450.3 96.6h1.5v2.2h-1.5zM452.6 96.6h1.5v2.2h-1.5zM459.5 96.6h1.5v2.2h-1.5zM461.8 96.6h1.5v2.2h-1.5zM443.4 93.7h1.5v2.2h-1.5zM448.0 93.7h1.5v2.2h-1.5zM450.3 93.7h1.5v2.2h-1.5zM452.6 93.7h1.5v2.2h-1.5zM454.9 93.7h1.5v2.2h-1.5zM457.2 93.7h1.5v2.2h-1.5zM459.5 93.7h1.5v2.2h-1.5zM461.8 93.7h1.5v2.2h-1.5zM464.1 93.7h1.5v2.2h-1.5zM443.4 90.8h1.5v2.2h-1.5zM445.7 90.8h1.5v2.2h-1.5zM448.0 90.8h1.5v2.2h-1.5zM450.3 90.8h1.5v2.2h-1.5zM452.6 90.8h1.5v2.2h-1.5zM454.9 90.8h1.5v2.2h-1.5zM457.2 90.8h1.5v2.2h-1.5zM459.5 90.8h1.5v2.2h-1.5zM461.8 90.8h1.5v2.2h-1.5zM464.1 90.8h1.5v2.2h-1.5z" fill="#e6f3fa" opacity="0.8"/><path d="M467 117.5V79.5Q467 72.5 474 72.5H504Q511 72.5 511 79.5V117.5Z" fill="#7fb2c6" opacity="0.28"/><path d="M467.4 114.3h1.9v1.9h-1.9zM470.0 114.3h1.9v1.9h-1.9zM472.7 114.3h1.9v1.9h-1.9zM478.0 114.3h1.9v1.9h-1.9zM480.6 114.3h1.9v1.9h-1.9zM483.3 114.3h1.9v1.9h-1.9zM485.9 114.3h1.9v1.9h-1.9zM488.6 114.3h1.9v1.9h-1.9zM491.2 114.3h1.9v1.9h-1.9zM493.9 114.3h1.9v1.9h-1.9zM496.5 114.3h1.9v1.9h-1.9zM499.2 114.3h1.9v1.9h-1.9zM501.8 114.3h1.9v1.9h-1.9zM504.5 114.3h1.9v1.9h-1.9zM507.1 114.3h1.9v1.9h-1.9zM467.4 111.6h1.9v1.9h-1.9zM470.0 111.6h1.9v1.9h-1.9zM472.7 111.6h1.9v1.9h-1.9zM475.3 111.6h1.9v1.9h-1.9zM478.0 111.6h1.9v1.9h-1.9zM480.6 111.6h1.9v1.9h-1.9zM483.3 111.6h1.9v1.9h-1.9zM485.9 111.6h1.9v1.9h-1.9zM488.6 111.6h1.9v1.9h-1.9zM491.2 111.6h1.9v1.9h-1.9zM493.9 111.6h1.9v1.9h-1.9zM496.5 111.6h1.9v1.9h-1.9zM499.2 111.6h1.9v1.9h-1.9zM501.8 111.6h1.9v1.9h-1.9zM504.5 111.6h1.9v1.9h-1.9zM507.1 111.6h1.9v1.9h-1.9zM467.4 109.0h1.9v1.9h-1.9zM470.0 109.0h1.9v1.9h-1.9zM472.7 109.0h1.9v1.9h-1.9zM475.3 109.0h1.9v1.9h-1.9zM478.0 109.0h1.9v1.9h-1.9zM480.6 109.0h1.9v1.9h-1.9zM483.3 109.0h1.9v1.9h-1.9zM488.6 109.0h1.9v1.9h-1.9zM496.5 109.0h1.9v1.9h-1.9zM501.8 109.0h1.9v1.9h-1.9zM507.1 109.0h1.9v1.9h-1.9zM472.7 106.3h1.9v1.9h-1.9zM475.3 106.3h1.9v1.9h-1.9zM480.6 106.3h1.9v1.9h-1.9zM483.3 106.3h1.9v1.9h-1.9zM485.9 106.3h1.9v1.9h-1.9zM488.6 106.3h1.9v1.9h-1.9zM493.9 106.3h1.9v1.9h-1.9zM499.2 106.3h1.9v1.9h-1.9zM501.8 106.3h1.9v1.9h-1.9zM507.1 106.3h1.9v1.9h-1.9zM467.4 103.7h1.9v1.9h-1.9zM470.0 103.7h1.9v1.9h-1.9zM472.7 103.7h1.9v1.9h-1.9zM475.3 103.7h1.9v1.9h-1.9zM478.0 103.7h1.9v1.9h-1.9zM480.6 103.7h1.9v1.9h-1.9zM485.9 103.7h1.9v1.9h-1.9zM491.2 103.7h1.9v1.9h-1.9zM493.9 103.7h1.9v1.9h-1.9zM496.5 103.7h1.9v1.9h-1.9zM499.2 103.7h1.9v1.9h-1.9zM501.8 103.7h1.9v1.9h-1.9zM504.5 103.7h1.9v1.9h-1.9zM467.4 101.0h1.9v1.9h-1.9zM470.0 101.0h1.9v1.9h-1.9zM475.3 101.0h1.9v1.9h-1.9zM480.6 101.0h1.9v1.9h-1.9zM483.3 101.0h1.9v1.9h-1.9zM485.9 101.0h1.9v1.9h-1.9zM488.6 101.0h1.9v1.9h-1.9zM493.9 101.0h1.9v1.9h-1.9zM496.5 101.0h1.9v1.9h-1.9zM499.2 101.0h1.9v1.9h-1.9zM501.8 101.0h1.9v1.9h-1.9zM504.5 101.0h1.9v1.9h-1.9zM507.1 101.0h1.9v1.9h-1.9zM467.4 98.4h1.9v1.9h-1.9zM472.7 98.4h1.9v1.9h-1.9zM475.3 98.4h1.9v1.9h-1.9zM480.6 98.4h1.9v1.9h-1.9zM483.3 98.4h1.9v1.9h-1.9zM485.9 98.4h1.9v1.9h-1.9zM488.6 98.4h1.9v1.9h-1.9zM491.2 98.4h1.9v1.9h-1.9zM493.9 98.4h1.9v1.9h-1.9zM496.5 98.4h1.9v1.9h-1.9zM499.2 98.4h1.9v1.9h-1.9zM501.8 98.4h1.9v1.9h-1.9zM507.1 98.4h1.9v1.9h-1.9zM467.4 95.7h1.9v1.9h-1.9zM470.0 95.7h1.9v1.9h-1.9zM472.7 95.7h1.9v1.9h-1.9zM475.3 95.7h1.9v1.9h-1.9zM478.0 95.7h1.9v1.9h-1.9zM480.6 95.7h1.9v1.9h-1.9zM483.3 95.7h1.9v1.9h-1.9zM485.9 95.7h1.9v1.9h-1.9zM488.6 95.7h1.9v1.9h-1.9zM491.2 95.7h1.9v1.9h-1.9zM493.9 95.7h1.9v1.9h-1.9zM496.5 95.7h1.9v1.9h-1.9zM499.2 95.7h1.9v1.9h-1.9zM501.8 95.7h1.9v1.9h-1.9zM507.1 95.7h1.9v1.9h-1.9zM467.4 93.1h1.9v1.9h-1.9zM470.0 93.1h1.9v1.9h-1.9zM472.7 93.1h1.9v1.9h-1.9zM478.0 93.1h1.9v1.9h-1.9zM480.6 93.1h1.9v1.9h-1.9zM483.3 93.1h1.9v1.9h-1.9zM485.9 93.1h1.9v1.9h-1.9zM488.6 93.1h1.9v1.9h-1.9zM491.2 93.1h1.9v1.9h-1.9zM493.9 93.1h1.9v1.9h-1.9zM496.5 93.1h1.9v1.9h-1.9zM499.2 93.1h1.9v1.9h-1.9zM504.5 93.1h1.9v1.9h-1.9zM507.1 93.1h1.9v1.9h-1.9zM470.0 90.4h1.9v1.9h-1.9zM472.7 90.4h1.9v1.9h-1.9zM475.3 90.4h1.9v1.9h-1.9zM478.0 90.4h1.9v1.9h-1.9zM480.6 90.4h1.9v1.9h-1.9zM483.3 90.4h1.9v1.9h-1.9zM485.9 90.4h1.9v1.9h-1.9zM488.6 90.4h1.9v1.9h-1.9zM493.9 90.4h1.9v1.9h-1.9zM496.5 90.4h1.9v1.9h-1.9zM499.2 90.4h1.9v1.9h-1.9zM501.8 90.4h1.9v1.9h-1.9zM504.5 90.4h1.9v1.9h-1.9zM467.4 87.8h1.9v1.9h-1.9zM470.0 87.8h1.9v1.9h-1.9zM472.7 87.8h1.9v1.9h-1.9zM475.3 87.8h1.9v1.9h-1.9zM480.6 87.8h1.9v1.9h-1.9zM483.3 87.8h1.9v1.9h-1.9zM485.9 87.8h1.9v1.9h-1.9zM491.2 87.8h1.9v1.9h-1.9zM493.9 87.8h1.9v1.9h-1.9zM496.5 87.8h1.9v1.9h-1.9zM499.2 87.8h1.9v1.9h-1.9zM501.8 87.8h1.9v1.9h-1.9zM504.5 87.8h1.9v1.9h-1.9zM507.1 87.8h1.9v1.9h-1.9zM467.4 85.1h1.9v1.9h-1.9zM470.0 85.1h1.9v1.9h-1.9zM472.7 85.1h1.9v1.9h-1.9zM475.3 85.1h1.9v1.9h-1.9zM480.6 85.1h1.9v1.9h-1.9zM483.3 85.1h1.9v1.9h-1.9zM485.9 85.1h1.9v1.9h-1.9zM488.6 85.1h1.9v1.9h-1.9zM491.2 85.1h1.9v1.9h-1.9zM493.9 85.1h1.9v1.9h-1.9zM496.5 85.1h1.9v1.9h-1.9zM499.2 85.1h1.9v1.9h-1.9zM504.5 85.1h1.9v1.9h-1.9zM467.4 82.5h1.9v1.9h-1.9zM470.0 82.5h1.9v1.9h-1.9zM472.7 82.5h1.9v1.9h-1.9zM475.3 82.5h1.9v1.9h-1.9zM480.6 82.5h1.9v1.9h-1.9zM483.3 82.5h1.9v1.9h-1.9zM488.6 82.5h1.9v1.9h-1.9zM491.2 82.5h1.9v1.9h-1.9zM496.5 82.5h1.9v1.9h-1.9zM499.2 82.5h1.9v1.9h-1.9zM501.8 82.5h1.9v1.9h-1.9zM507.1 82.5h1.9v1.9h-1.9zM470.0 79.8h1.9v1.9h-1.9zM475.3 79.8h1.9v1.9h-1.9zM478.0 79.8h1.9v1.9h-1.9zM480.6 79.8h1.9v1.9h-1.9zM483.3 79.8h1.9v1.9h-1.9zM485.9 79.8h1.9v1.9h-1.9zM488.6 79.8h1.9v1.9h-1.9zM491.2 79.8h1.9v1.9h-1.9zM496.5 79.8h1.9v1.9h-1.9zM499.2 79.8h1.9v1.9h-1.9zM501.8 79.8h1.9v1.9h-1.9zM507.1 79.8h1.9v1.9h-1.9zM467.4 77.2h1.9v1.9h-1.9zM470.0 77.2h1.9v1.9h-1.9zM472.7 77.2h1.9v1.9h-1.9zM475.3 77.2h1.9v1.9h-1.9zM478.0 77.2h1.9v1.9h-1.9zM480.6 77.2h1.9v1.9h-1.9zM483.3 77.2h1.9v1.9h-1.9zM485.9 77.2h1.9v1.9h-1.9zM488.6 77.2h1.9v1.9h-1.9zM491.2 77.2h1.9v1.9h-1.9zM501.8 77.2h1.9v1.9h-1.9zM470.0 74.5h1.9v1.9h-1.9zM472.7 74.5h1.9v1.9h-1.9zM475.3 74.5h1.9v1.9h-1.9zM478.0 74.5h1.9v1.9h-1.9zM485.9 74.5h1.9v1.9h-1.9zM491.2 74.5h1.9v1.9h-1.9zM493.9 74.5h1.9v1.9h-1.9zM496.5 74.5h1.9v1.9h-1.9zM499.2 74.5h1.9v1.9h-1.9zM501.8 74.5h1.9v1.9h-1.9zM504.5 74.5h1.9v1.9h-1.9zM507.1 74.5h1.9v1.9h-1.9z" fill="#e6f3fa" opacity="0.95"/><path d="M512 117.5V95H540V117.5Z" fill="#7fb2c6" opacity="0.22"/><path d="M512.4 114.0h1.5v2.2h-1.5zM514.7 114.0h1.5v2.2h-1.5zM517.0 114.0h1.5v2.2h-1.5zM519.3 114.0h1.5v2.2h-1.5zM521.6 114.0h1.5v2.2h-1.5zM523.9 114.0h1.5v2.2h-1.5zM526.2 114.0h1.5v2.2h-1.5zM530.8 114.0h1.5v2.2h-1.5zM533.1 114.0h1.5v2.2h-1.5zM535.4 114.0h1.5v2.2h-1.5zM537.7 114.0h1.5v2.2h-1.5zM512.4 111.1h1.5v2.2h-1.5zM514.7 111.1h1.5v2.2h-1.5zM517.0 111.1h1.5v2.2h-1.5zM519.3 111.1h1.5v2.2h-1.5zM521.6 111.1h1.5v2.2h-1.5zM523.9 111.1h1.5v2.2h-1.5zM526.2 111.1h1.5v2.2h-1.5zM528.5 111.1h1.5v2.2h-1.5zM530.8 111.1h1.5v2.2h-1.5zM533.1 111.1h1.5v2.2h-1.5zM535.4 111.1h1.5v2.2h-1.5zM537.7 111.1h1.5v2.2h-1.5zM512.4 108.2h1.5v2.2h-1.5zM514.7 108.2h1.5v2.2h-1.5zM519.3 108.2h1.5v2.2h-1.5zM521.6 108.2h1.5v2.2h-1.5zM523.9 108.2h1.5v2.2h-1.5zM526.2 108.2h1.5v2.2h-1.5zM528.5 108.2h1.5v2.2h-1.5zM530.8 108.2h1.5v2.2h-1.5zM533.1 108.2h1.5v2.2h-1.5zM535.4 108.2h1.5v2.2h-1.5zM537.7 108.2h1.5v2.2h-1.5zM514.7 105.3h1.5v2.2h-1.5zM517.0 105.3h1.5v2.2h-1.5zM519.3 105.3h1.5v2.2h-1.5zM521.6 105.3h1.5v2.2h-1.5zM523.9 105.3h1.5v2.2h-1.5zM526.2 105.3h1.5v2.2h-1.5zM528.5 105.3h1.5v2.2h-1.5zM530.8 105.3h1.5v2.2h-1.5zM533.1 105.3h1.5v2.2h-1.5zM535.4 105.3h1.5v2.2h-1.5zM537.7 105.3h1.5v2.2h-1.5zM512.4 102.4h1.5v2.2h-1.5zM514.7 102.4h1.5v2.2h-1.5zM517.0 102.4h1.5v2.2h-1.5zM519.3 102.4h1.5v2.2h-1.5zM521.6 102.4h1.5v2.2h-1.5zM523.9 102.4h1.5v2.2h-1.5zM526.2 102.4h1.5v2.2h-1.5zM528.5 102.4h1.5v2.2h-1.5zM530.8 102.4h1.5v2.2h-1.5zM535.4 102.4h1.5v2.2h-1.5zM537.7 102.4h1.5v2.2h-1.5zM512.4 99.5h1.5v2.2h-1.5zM514.7 99.5h1.5v2.2h-1.5zM517.0 99.5h1.5v2.2h-1.5zM519.3 99.5h1.5v2.2h-1.5zM521.6 99.5h1.5v2.2h-1.5zM523.9 99.5h1.5v2.2h-1.5zM526.2 99.5h1.5v2.2h-1.5zM528.5 99.5h1.5v2.2h-1.5zM530.8 99.5h1.5v2.2h-1.5zM533.1 99.5h1.5v2.2h-1.5zM535.4 99.5h1.5v2.2h-1.5zM537.7 99.5h1.5v2.2h-1.5zM512.4 96.6h1.5v2.2h-1.5zM514.7 96.6h1.5v2.2h-1.5zM517.0 96.6h1.5v2.2h-1.5zM519.3 96.6h1.5v2.2h-1.5zM521.6 96.6h1.5v2.2h-1.5zM523.9 96.6h1.5v2.2h-1.5zM526.2 96.6h1.5v2.2h-1.5zM528.5 96.6h1.5v2.2h-1.5zM530.8 96.6h1.5v2.2h-1.5zM533.1 96.6h1.5v2.2h-1.5zM535.4 96.6h1.5v2.2h-1.5zM537.7 96.6h1.5v2.2h-1.5z" fill="#e6f3fa" opacity="0.75"/><path d="M541 117.5V97H570V117.5Z" fill="#7fb2c6" opacity="0.14"/><path d="M541.4 114.0h1.5v2.2h-1.5zM543.7 114.0h1.5v2.2h-1.5zM546.0 114.0h1.5v2.2h-1.5zM548.3 114.0h1.5v2.2h-1.5zM550.6 114.0h1.5v2.2h-1.5zM552.9 114.0h1.5v2.2h-1.5zM555.2 114.0h1.5v2.2h-1.5zM557.5 114.0h1.5v2.2h-1.5zM559.8 114.0h1.5v2.2h-1.5zM564.4 114.0h1.5v2.2h-1.5zM566.7 114.0h1.5v2.2h-1.5zM543.7 111.1h1.5v2.2h-1.5zM546.0 111.1h1.5v2.2h-1.5zM550.6 111.1h1.5v2.2h-1.5zM552.9 111.1h1.5v2.2h-1.5zM555.2 111.1h1.5v2.2h-1.5zM557.5 111.1h1.5v2.2h-1.5zM559.8 111.1h1.5v2.2h-1.5zM562.1 111.1h1.5v2.2h-1.5zM564.4 111.1h1.5v2.2h-1.5zM566.7 111.1h1.5v2.2h-1.5zM541.4 108.2h1.5v2.2h-1.5zM543.7 108.2h1.5v2.2h-1.5zM546.0 108.2h1.5v2.2h-1.5zM548.3 108.2h1.5v2.2h-1.5zM550.6 108.2h1.5v2.2h-1.5zM552.9 108.2h1.5v2.2h-1.5zM555.2 108.2h1.5v2.2h-1.5zM557.5 108.2h1.5v2.2h-1.5zM559.8 108.2h1.5v2.2h-1.5zM562.1 108.2h1.5v2.2h-1.5zM564.4 108.2h1.5v2.2h-1.5zM541.4 105.3h1.5v2.2h-1.5zM543.7 105.3h1.5v2.2h-1.5zM546.0 105.3h1.5v2.2h-1.5zM548.3 105.3h1.5v2.2h-1.5zM550.6 105.3h1.5v2.2h-1.5zM552.9 105.3h1.5v2.2h-1.5zM555.2 105.3h1.5v2.2h-1.5zM557.5 105.3h1.5v2.2h-1.5zM559.8 105.3h1.5v2.2h-1.5zM562.1 105.3h1.5v2.2h-1.5zM564.4 105.3h1.5v2.2h-1.5zM566.7 105.3h1.5v2.2h-1.5zM541.4 102.4h1.5v2.2h-1.5zM543.7 102.4h1.5v2.2h-1.5zM546.0 102.4h1.5v2.2h-1.5zM548.3 102.4h1.5v2.2h-1.5zM550.6 102.4h1.5v2.2h-1.5zM552.9 102.4h1.5v2.2h-1.5zM555.2 102.4h1.5v2.2h-1.5zM557.5 102.4h1.5v2.2h-1.5zM559.8 102.4h1.5v2.2h-1.5zM562.1 102.4h1.5v2.2h-1.5zM564.4 102.4h1.5v2.2h-1.5zM566.7 102.4h1.5v2.2h-1.5zM541.4 99.5h1.5v2.2h-1.5zM543.7 99.5h1.5v2.2h-1.5zM548.3 99.5h1.5v2.2h-1.5zM550.6 99.5h1.5v2.2h-1.5zM552.9 99.5h1.5v2.2h-1.5zM555.2 99.5h1.5v2.2h-1.5zM557.5 99.5h1.5v2.2h-1.5zM562.1 99.5h1.5v2.2h-1.5zM564.4 99.5h1.5v2.2h-1.5zM566.7 99.5h1.5v2.2h-1.5z" fill="#e6f3fa" opacity="0.45"/><path d="M570 117.5V92.5Q570 85.5 577 85.5H589Q596 85.5 596 92.5V117.5Z" fill="#7fb2c6" opacity="0.10"/><path d="M570.4 114.7h2.6v1.5h-2.6zM577.0 114.7h2.6v1.5h-2.6zM580.3 114.7h2.6v1.5h-2.6zM583.6 114.7h2.6v1.5h-2.6zM586.9 114.7h2.6v1.5h-2.6zM590.2 114.7h2.6v1.5h-2.6zM570.4 112.3h2.6v1.5h-2.6zM573.7 112.3h2.6v1.5h-2.6zM577.0 112.3h2.6v1.5h-2.6zM580.3 112.3h2.6v1.5h-2.6zM583.6 112.3h2.6v1.5h-2.6zM590.2 112.3h2.6v1.5h-2.6zM570.4 109.9h2.6v1.5h-2.6zM573.7 109.9h2.6v1.5h-2.6zM577.0 109.9h2.6v1.5h-2.6zM580.3 109.9h2.6v1.5h-2.6zM586.9 109.9h2.6v1.5h-2.6zM590.2 109.9h2.6v1.5h-2.6zM570.4 107.5h2.6v1.5h-2.6zM573.7 107.5h2.6v1.5h-2.6zM577.0 107.5h2.6v1.5h-2.6zM580.3 107.5h2.6v1.5h-2.6zM583.6 107.5h2.6v1.5h-2.6zM586.9 107.5h2.6v1.5h-2.6zM590.2 107.5h2.6v1.5h-2.6zM570.4 105.1h2.6v1.5h-2.6zM573.7 105.1h2.6v1.5h-2.6zM577.0 105.1h2.6v1.5h-2.6zM583.6 105.1h2.6v1.5h-2.6zM586.9 105.1h2.6v1.5h-2.6zM590.2 105.1h2.6v1.5h-2.6zM570.4 102.7h2.6v1.5h-2.6zM573.7 102.7h2.6v1.5h-2.6zM577.0 102.7h2.6v1.5h-2.6zM580.3 102.7h2.6v1.5h-2.6zM583.6 102.7h2.6v1.5h-2.6zM586.9 102.7h2.6v1.5h-2.6zM590.2 102.7h2.6v1.5h-2.6zM570.4 100.3h2.6v1.5h-2.6zM573.7 100.3h2.6v1.5h-2.6zM580.3 100.3h2.6v1.5h-2.6zM583.6 100.3h2.6v1.5h-2.6zM586.9 100.3h2.6v1.5h-2.6zM590.2 100.3h2.6v1.5h-2.6zM570.4 97.9h2.6v1.5h-2.6zM573.7 97.9h2.6v1.5h-2.6zM577.0 97.9h2.6v1.5h-2.6zM580.3 97.9h2.6v1.5h-2.6zM583.6 97.9h2.6v1.5h-2.6zM586.9 97.9h2.6v1.5h-2.6zM590.2 97.9h2.6v1.5h-2.6zM570.4 95.5h2.6v1.5h-2.6zM573.7 95.5h2.6v1.5h-2.6zM577.0 95.5h2.6v1.5h-2.6zM580.3 95.5h2.6v1.5h-2.6zM583.6 95.5h2.6v1.5h-2.6zM586.9 95.5h2.6v1.5h-2.6zM590.2 95.5h2.6v1.5h-2.6zM570.4 93.1h2.6v1.5h-2.6zM573.7 93.1h2.6v1.5h-2.6zM577.0 93.1h2.6v1.5h-2.6zM580.3 93.1h2.6v1.5h-2.6zM583.6 93.1h2.6v1.5h-2.6zM586.9 93.1h2.6v1.5h-2.6zM590.2 93.1h2.6v1.5h-2.6zM570.4 90.7h2.6v1.5h-2.6zM577.0 90.7h2.6v1.5h-2.6zM580.3 90.7h2.6v1.5h-2.6zM583.6 90.7h2.6v1.5h-2.6zM590.2 90.7h2.6v1.5h-2.6zM570.4 88.3h2.6v1.5h-2.6zM573.7 88.3h2.6v1.5h-2.6zM577.0 88.3h2.6v1.5h-2.6zM580.3 88.3h2.6v1.5h-2.6zM583.6 88.3h2.6v1.5h-2.6zM590.2 88.3h2.6v1.5h-2.6zM573.7 85.9h2.6v1.5h-2.6zM577.0 85.9h2.6v1.5h-2.6zM580.3 85.9h2.6v1.5h-2.6zM583.6 85.9h2.6v1.5h-2.6zM586.9 85.9h2.6v1.5h-2.6zM590.2 85.9h2.6v1.5h-2.6z" fill="#e6f3fa" opacity="0.33"/><path d="M597 117.5V104.5H625V117.5Z" fill="#7fb2c6" opacity="0.07"/><path d="M597.4 114.3h1.9v1.9h-1.9zM602.7 114.3h1.9v1.9h-1.9zM605.3 114.3h1.9v1.9h-1.9zM610.6 114.3h1.9v1.9h-1.9zM613.3 114.3h1.9v1.9h-1.9zM615.9 114.3h1.9v1.9h-1.9zM621.2 114.3h1.9v1.9h-1.9zM600.0 111.6h1.9v1.9h-1.9zM602.7 111.6h1.9v1.9h-1.9zM605.3 111.6h1.9v1.9h-1.9zM608.0 111.6h1.9v1.9h-1.9zM610.6 111.6h1.9v1.9h-1.9zM615.9 111.6h1.9v1.9h-1.9zM618.6 111.6h1.9v1.9h-1.9zM621.2 111.6h1.9v1.9h-1.9zM597.4 109.0h1.9v1.9h-1.9zM600.0 109.0h1.9v1.9h-1.9zM602.7 109.0h1.9v1.9h-1.9zM605.3 109.0h1.9v1.9h-1.9zM608.0 109.0h1.9v1.9h-1.9zM610.6 109.0h1.9v1.9h-1.9zM613.3 109.0h1.9v1.9h-1.9zM615.9 109.0h1.9v1.9h-1.9zM621.2 109.0h1.9v1.9h-1.9zM600.0 106.3h1.9v1.9h-1.9zM602.7 106.3h1.9v1.9h-1.9zM605.3 106.3h1.9v1.9h-1.9zM610.6 106.3h1.9v1.9h-1.9zM613.3 106.3h1.9v1.9h-1.9zM618.6 106.3h1.9v1.9h-1.9zM621.2 106.3h1.9v1.9h-1.9z" fill="#e6f3fa" opacity="0.25"/><rect x="170" y="91" width="1" height="6" fill="#e8f4fb" opacity=".7"/><path d="M445 88L455 84.5L465 88Z" fill="#e8f4fb" opacity=".45"/></g><linearGradient id="gg" x1="0" y1="0" x2="1" y2="0"><stop offset="0" stop-color="#45a3bd"/><stop offset=".28" stop-color="#5a8fb5"/><stop offset=".5" stop-color="#8e9094"/><stop offset="1" stop-color="#8e9094"/></linearGradient><filter id="bb" x="-10%" y="-10%" width="120%" height="120%"><feGaussianBlur stdDeviation="1.3"/></filter><clipPath id="b0c"><ellipse cx="963.8" cy="208.9" rx="73" ry="68.6"/></clipPath><linearGradient id="b0h" x1="0.9" y1="0.1" x2="0.1" y2="0.9"><stop offset="0" stop-color="#4fc3f5" stop-opacity="1"/><stop offset="0.38" stop-color="#4fc3f5" stop-opacity=".35"/><stop offset="0.5" stop-color="#0f9be0" stop-opacity="0"/><stop offset="0.62" stop-color="#0a78b8" stop-opacity=".3"/><stop offset="1" stop-color="#0a78b8" stop-opacity=".95"/></linearGradient><clipPath id="b1c"><ellipse cx="1146.4" cy="314.7" rx="68.5" ry="67.7"/></clipPath><linearGradient id="b1h" x1="0.9" y1="0.1" x2="0.1" y2="0.9"><stop offset="0" stop-color="#3f7d94" stop-opacity="1"/><stop offset="0.38" stop-color="#3f7d94" stop-opacity=".35"/><stop offset="0.5" stop-color="#17536a" stop-opacity="0"/><stop offset="0.62" stop-color="#0e3e50" stop-opacity=".3"/><stop offset="1" stop-color="#0e3e50" stop-opacity=".95"/></linearGradient><clipPath id="b2c"><ellipse cx="1146.4" cy="525.6" rx="68.5" ry="68"/></clipPath><linearGradient id="b2h" x1="0.9" y1="0.1" x2="0.1" y2="0.9"><stop offset="0" stop-color="#bf6e98" stop-opacity="1"/><stop offset="0.38" stop-color="#bf6e98" stop-opacity=".35"/><stop offset="0.5" stop-color="#963f6c" stop-opacity="0"/><stop offset="0.62" stop-color="#702a4e" stop-opacity=".3"/><stop offset="1" stop-color="#702a4e" stop-opacity=".95"/></linearGradient><clipPath id="b3c"><ellipse cx="964" cy="630.6" rx="68" ry="68.2"/></clipPath><linearGradient id="b3h" x1="0.9" y1="0.1" x2="0.1" y2="0.9"><stop offset="0" stop-color="#c795c8" stop-opacity="1"/><stop offset="0.38" stop-color="#c795c8" stop-opacity=".35"/><stop offset="0.5" stop-color="#9a659c" stop-opacity="0"/><stop offset="0.62" stop-color="#774a79" stop-opacity=".3"/><stop offset="1" stop-color="#774a79" stop-opacity=".95"/></linearGradient><clipPath id="b4c"><ellipse cx="781.5" cy="525.6" rx="68.5" ry="68"/></clipPath><linearGradient id="b4h" x1="0.9" y1="0.1" x2="0.1" y2="0.9"><stop offset="0" stop-color="#d2b568" stop-opacity="1"/><stop offset="0.38" stop-color="#d2b568" stop-opacity=".35"/><stop offset="0.5" stop-color="#ae8c3e" stop-opacity="0"/><stop offset="0.62" stop-color="#8a6c28" stop-opacity=".3"/><stop offset="1" stop-color="#8a6c28" stop-opacity=".95"/></linearGradient><clipPath id="b5c"><ellipse cx="781.5" cy="315" rx="68.5" ry="67.3"/></clipPath><linearGradient id="b5h" x1="0.9" y1="0.1" x2="0.1" y2="0.9"><stop offset="0" stop-color="#8fb8e0" stop-opacity="1"/><stop offset="0.38" stop-color="#8fb8e0" stop-opacity=".35"/><stop offset="0.5" stop-color="#5b8fc4" stop-opacity="0"/><stop offset="0.62" stop-color="#4472a5" stop-opacity=".3"/><stop offset="1" stop-color="#4472a5" stop-opacity=".95"/></linearGradient><clipPath id="bcc"><ellipse cx="963.8" cy="421.5" rx="97" ry="97.8"/></clipPath><linearGradient id="bch" x1="0.9" y1="0.1" x2="0.1" y2="0.9"><stop offset="0" stop-color="#d8f6ff" stop-opacity="1"/><stop offset="0.38" stop-color="#d8f6ff" stop-opacity=".35"/><stop offset="0.5" stop-color="#9be3fb" stop-opacity="0"/><stop offset="0.62" stop-color="#7fd0ee" stop-opacity=".3"/><stop offset="1" stop-color="#7fd0ee" stop-opacity=".95"/></linearGradient><clipPath id="lg"><rect x="1070" y="677" width="140" height="40"/></clipPath></defs><rect x="0" y="0" width="1280" height="720" fill="#ffffff"/><rect x="5.5" y="117" width="1266.5" height="601.5" fill="#f4f6f8"/><g clip-path="url(#pc)"><g filter="url(#bl)"><rect x="645" y="125" width="260" height="170" fill="#e4e9ee" opacity="0.55"/><rect x="20" y="125" width="90" height="70" fill="#e4e9ee" opacity="0.5"/><rect x="560" y="120" width="80" height="200" fill="#e4e9ee" opacity="0.35"/><rect x="10" y="420" width="120" height="280" fill="#e4e9ee" opacity="0.4"/><rect x="480" y="330" width="150" height="200" fill="#e4e9ee" opacity="0.3"/><rect x="1180" y="400" width="90" height="250" fill="#e4e9ee" opacity="0.35"/><rect x="660" y="560" width="120" height="140" fill="#e4e9ee" opacity="0.3"/><rect x="1060" y="120" width="200" height="60" fill="#e4e9ee" opacity="0.3"/><rect x="150" y="380" width="340" height="320" fill="#ffffff" opacity="0.75"/><rect x="120" y="180" width="480" height="150" fill="#ffffff" opacity="0.5"/><rect x="860" y="300" width="210" height="250" fill="#ffffff" opacity="0.6"/><rect x="1090" y="180" width="170" height="200" fill="#ffffff" opacity="0.6"/><rect x="700" y="390" width="160" height="60" fill="#ffffff" opacity="0.5"/><rect x="1040" y="590" width="230" height="120" fill="#ffffff" opacity="0.55"/><rect x="660" y="300" width="60" height="240" fill="#ffffff" opacity="0.5"/><rect x="860" y="560" width="60" height="150" fill="#ffffff" opacity="0.4"/></g><g filter="url(#bl2)"><line x1="650" y1="290" x2="900" y2="135" stroke="#dfe5ea" stroke-width="10" opacity="0.35"/><line x1="700" y1="300" x2="930" y2="150" stroke="#dfe5ea" stroke-width="5" opacity="0.3"/><line x1="1080" y1="135" x2="1260" y2="260" stroke="#dfe5ea" stroke-width="8" opacity="0.3"/><line x1="1100" y1="300" x2="1265" y2="330" stroke="#dfe5ea" stroke-width="6" opacity="0.25"/><line x1="655" y1="180" x2="800" y2="180" stroke="#dfe5ea" stroke-width="7" opacity="0.3"/><line x1="655" y1="215" x2="760" y2="215" stroke="#dfe5ea" stroke-width="5" opacity="0.25"/><line x1="1190" y1="420" x2="1190" y2="640" stroke="#dfe5ea" stroke-width="10" opacity="0.25"/><line x1="1230" y1="380" x2="1230" y2="560" stroke="#dfe5ea" stroke-width="6" opacity="0.25"/><line x1="60" y1="440" x2="60" y2="690" stroke="#dfe5ea" stroke-width="12" opacity="0.25"/><line x1="100" y1="470" x2="100" y2="700" stroke="#dfe5ea" stroke-width="6" opacity="0.2"/><line x1="520" y1="350" x2="520" y2="520" stroke="#dfe5ea" stroke-width="10" opacity="0.2"/><line x1="590" y1="140" x2="590" y2="330" stroke="#dfe5ea" stroke-width="8" opacity="0.2"/></g></g><rect x="1263.5" y="117.5" width="7" height="600" fill="#fbfcfd" opacity=".8"/><rect x="5.5" y="117" width="1266.5" height="601.5" fill="none" stroke="#8f8f8f" stroke-width="1.6"/><rect x="4.5" y="0" width="1268.5" height="117.5" fill="url(#hdr)"/><rect x="4.5" y="0" width="634" height="117.5" fill="url(#hdrv)"/><rect x="638.5" y="0" width="634.5" height="117.5" fill="url(#hdrv)"/><use href="#sky"/><use href="#sky" x="635"/><rect x="1273" y="0" width="7" height="117.5" fill="#fff"/><text x="28.11" y="69" font-size="37.5" fill="#ffffff" font-weight="bold" textLength="151.23" lengthAdjust="spacingAndGlyphs" stroke="#fff" stroke-width=".55">PLASTIC</text><text x="187.63" y="69" font-size="37.5" fill="#ffffff" font-weight="bold" textLength="133.66" lengthAdjust="spacingAndGlyphs" stroke="#fff" stroke-width=".55">PALLET</text><text x="330.59" y="69" font-size="37.5" fill="#ffffff" font-weight="bold" textLength="316.04" lengthAdjust="spacingAndGlyphs" stroke="#fff" stroke-width=".55">MANUFACTURING</text><text x="654.37" y="69" font-size="37.5" fill="#ffffff" font-weight="bold" textLength="117.63" lengthAdjust="spacingAndGlyphs" stroke="#fff" stroke-width=".55">PLANT</text><text x="783.67" y="69" font-size="37.5" fill="#ffffff" font-weight="bold" textLength="161.94" lengthAdjust="spacingAndGlyphs" stroke="#fff" stroke-width=".55">PROJECT</text><text x="955.19" y="69" font-size="37.5" fill="#ffffff" font-weight="bold" textLength="141.3" lengthAdjust="spacingAndGlyphs" stroke="#fff" stroke-width=".55">REPORT</text><text x="118.56" y="169" font-size="32.3" fill="#2b3a67" font-weight="bold" textLength="111.58" lengthAdjust="spacingAndGlyphs" >Market</text><text x="240.47" y="169" font-size="32.3" fill="#2b3a67" font-weight="bold" textLength="189.6" lengthAdjust="spacingAndGlyphs" >Opportunity</text><text x="440.23" y="169" font-size="32.3" fill="#2b3a67" font-weight="bold" textLength="82.18" lengthAdjust="spacingAndGlyphs" >(US$)</text><rect x="24.9" y="184.7" width="2.8" height="183" fill="#412b80"/><path d="M27 194.45H214.25Q217.65 194.45 217.65 197.85V212.95Q217.65 216.35 214.25 216.35H27Z" fill="#a4eafe" stroke="#412b80" stroke-width="2.7"/><path d="M27 222.85H238.25Q241.65 222.85 241.65 226.25V241.35Q241.65 244.75 238.25 244.75H27Z" fill="#a4eafe" stroke="#412b80" stroke-width="2.7"/><path d="M27 251.25H274.75Q278.15 251.25 278.15 254.65V269.75Q278.15 273.15 274.75 273.15H27Z" fill="#a4eafe" stroke="#412b80" stroke-width="2.7"/><path d="M27 279.75H313.15Q316.54999999999995 279.75 316.54999999999995 283.15V298.25Q316.54999999999995 301.65 313.15 301.65H27Z" fill="#a4eafe" stroke="#412b80" stroke-width="2.7"/><path d="M27 308.15000000000003H349.15Q352.54999999999995 308.15000000000003 352.54999999999995 311.55V326.65000000000003Q352.54999999999995 330.05 349.15 330.05H27Z" fill="#a4eafe" stroke="#412b80" stroke-width="2.7"/><path d="M27 336.55H382.85Q386.25 336.55 386.25 339.95V355.05Q386.25 358.45 382.85 358.45H27Z" fill="#a4eafe" stroke="#412b80" stroke-width="2.7"/><text x="367.4" y="224.4" font-size="20.6" fill="#262626" font-weight="bold" textLength="36.42" lengthAdjust="spacingAndGlyphs" >The</text><text x="410.7" y="224.4" font-size="20.6" fill="#262626" font-weight="bold" textLength="67.35" lengthAdjust="spacingAndGlyphs" >market</text><text x="486.51" y="224.4" font-size="20.6" fill="#262626" font-weight="bold" textLength="13.64" lengthAdjust="spacingAndGlyphs" >is</text><text x="505.59" y="224.4" font-size="20.6" fill="#262626" font-weight="bold" textLength="98.27" lengthAdjust="spacingAndGlyphs" >exhibiting</text><text x="611.0" y="224.4" font-size="20.6" fill="#262626" font-weight="bold" textLength="9.65" lengthAdjust="spacingAndGlyphs" >a</text><text x="367.02" y="269.2" font-size="32.5" fill="#2b3a67" font-weight="bold" textLength="213.83" lengthAdjust="spacingAndGlyphs" >CONTINUOUS</text><text x="366.34" y="301.3" font-size="20.6" fill="#262626" font-weight="bold" textLength="72.84" lengthAdjust="spacingAndGlyphs" >growth</text><text x="444.97" y="301.3" font-size="20.6" fill="#262626" font-weight="bold" textLength="38.83" lengthAdjust="spacingAndGlyphs" >rate</text><text x="28.74" y="405.9" font-size="21.2" fill="#262626" font-weight="bold" textLength="65.73" lengthAdjust="spacingAndGlyphs" >Report</text><text x="101.04" y="405.9" font-size="21.2" fill="#262626" font-weight="bold" textLength="99.42" lengthAdjust="spacingAndGlyphs" >Coverage:</text><line x1="637" y1="148" x2="643.7" y2="689.5" stroke="#666" stroke-width="1.6" stroke-dasharray="7.5 6.5"/><circle cx="316" cy="541" r="84.4" fill="none" stroke="#8c8c8c" stroke-width="1.1"/><path d="M318.26 476.34A64.7 64.7 0 0 1 360.13 493.68L352.96 501.36A54.2 54.2 0 0 0 317.89 486.83Z" fill="#1f8db8"/><line x1="344.89" y1="471.25" x2="341.83" y2="478.64" stroke="#222" stroke-width="1.3" stroke-dasharray="1.3 2"/><circle cx="348.30" cy="463.02" r="7.6" fill="#fff" stroke="#1f8db8" stroke-width="1.5"/><circle cx="348.30" cy="463.02" r="4.3" fill="#1f8db8"/><path d="M363.32 496.87A64.7 64.7 0 0 1 380.66 538.74L370.17 539.11A54.2 54.2 0 0 0 355.64 504.04Z" fill="#8a9fb8"/><line x1="385.75" y1="512.11" x2="378.36" y2="515.17" stroke="#222" stroke-width="1.3" stroke-dasharray="1.3 2"/><circle cx="393.98" cy="508.70" r="7.6" fill="#fff" stroke="#9a9da1" stroke-width="1.5"/><circle cx="393.98" cy="508.70" r="4.3" fill="#9a9da1"/><path d="M380.66 543.26A64.7 64.7 0 0 1 363.32 585.13L355.64 577.96A54.2 54.2 0 0 0 370.17 542.89Z" fill="#1b3fb4"/><line x1="385.75" y1="569.89" x2="378.36" y2="566.83" stroke="#222" stroke-width="1.3" stroke-dasharray="1.3 2"/><circle cx="393.98" cy="573.30" r="7.6" fill="#fff" stroke="#1b3fb4" stroke-width="1.5"/><circle cx="393.98" cy="573.30" r="4.3" fill="#1b3fb4"/><path d="M360.13 588.32A64.7 64.7 0 0 1 318.26 605.66L317.89 595.17A54.2 54.2 0 0 0 352.96 580.64Z" fill="#4fe0c6"/><line x1="344.89" y1="610.75" x2="341.83" y2="603.36" stroke="#222" stroke-width="1.3" stroke-dasharray="1.3 2"/><circle cx="348.30" cy="618.98" r="7.6" fill="#fff" stroke="#4fe0c6" stroke-width="1.5"/><circle cx="348.30" cy="618.98" r="4.3" fill="#4fe0c6"/><path d="M313.74 605.66A64.7 64.7 0 0 1 271.87 588.32L279.04 580.64A54.2 54.2 0 0 0 314.11 595.17Z" fill="#1f8db8"/><line x1="287.11" y1="610.75" x2="290.17" y2="603.36" stroke="#222" stroke-width="1.3" stroke-dasharray="1.3 2"/><circle cx="283.70" cy="618.98" r="7.6" fill="#fff" stroke="#1f8db8" stroke-width="1.5"/><circle cx="283.70" cy="618.98" r="4.3" fill="#1f8db8"/><path d="M268.68 585.13A64.7 64.7 0 0 1 251.34 543.26L261.83 542.89A54.2 54.2 0 0 0 276.36 577.96Z" fill="#8a9fb8"/><line x1="246.25" y1="569.89" x2="253.64" y2="566.83" stroke="#222" stroke-width="1.3" stroke-dasharray="1.3 2"/><circle cx="238.02" cy="573.30" r="7.6" fill="#fff" stroke="#9a9da1" stroke-width="1.5"/><circle cx="238.02" cy="573.30" r="4.3" fill="#9a9da1"/><path d="M251.34 538.74A64.7 64.7 0 0 1 268.68 496.87L276.36 504.04A54.2 54.2 0 0 0 261.83 539.11Z" fill="#1b3fb4"/><line x1="246.25" y1="512.11" x2="253.64" y2="515.17" stroke="#222" stroke-width="1.3" stroke-dasharray="1.3 2"/><circle cx="238.02" cy="508.70" r="7.6" fill="#fff" stroke="#1b3fb4" stroke-width="1.5"/><circle cx="238.02" cy="508.70" r="4.3" fill="#1b3fb4"/><path d="M271.87 493.68A64.7 64.7 0 0 1 313.74 476.34L314.11 486.83A54.2 54.2 0 0 0 279.04 501.36Z" fill="#4fe0c6"/><line x1="287.11" y1="471.25" x2="290.17" y2="478.64" stroke="#222" stroke-width="1.3" stroke-dasharray="1.3 2"/><circle cx="283.70" cy="463.02" r="7.6" fill="#fff" stroke="#4fe0c6" stroke-width="1.5"/><circle cx="283.70" cy="463.02" r="4.3" fill="#4fe0c6"/><text x="276.57" y="533.5" font-size="15" fill="#0f1235" font-weight="bold" textLength="79.14" lengthAdjust="spacingAndGlyphs" >BUSINESS</text><text x="287.76" y="550" font-size="15" fill="#0f1235" font-weight="bold" textLength="56.16" lengthAdjust="spacingAndGlyphs" >MODEL</text><text x="290.7" y="564" font-size="10" fill="#1a1a2e" font-weight="normal" textLength="49.6" lengthAdjust="spacingAndGlyphs" >CONCEPT</text><text x="228.7" y="439.4" font-size="9.2" fill="#1c1c2c" font-weight="normal" textLength="65.86" lengthAdjust="spacingAndGlyphs" stroke="#1c1c2c" stroke-width=".22">MANAGEMENT</text><text x="361.0" y="439.4" font-size="9.2" fill="#1c1c2c" font-weight="normal" textLength="31.55" lengthAdjust="spacingAndGlyphs" stroke="#1c1c2c" stroke-width=".22">COSTS</text><text x="152.0" y="518.6" font-size="9.2" fill="#1c1c2c" font-weight="normal" textLength="64.83" lengthAdjust="spacingAndGlyphs" stroke="#1c1c2c" stroke-width=".22">DISTRIBUTION</text><text x="420.7" y="518.6" font-size="9.2" fill="#1c1c2c" font-weight="normal" textLength="51.77" lengthAdjust="spacingAndGlyphs" stroke="#1c1c2c" stroke-width=".22">PRODUCTS</text><text x="161.72" y="624.7" font-size="9.2" fill="#1c1c2c" font-weight="normal" textLength="45.27" lengthAdjust="spacingAndGlyphs" stroke="#1c1c2c" stroke-width=".22">SERVICES</text><text x="424.82" y="624.7" font-size="9.2" fill="#1c1c2c" font-weight="normal" textLength="43.49" lengthAdjust="spacingAndGlyphs" stroke="#1c1c2c" stroke-width=".22">REVENUE</text><text x="233.2" y="691.7" font-size="9.2" fill="#1c1c2c" font-weight="normal" textLength="58.95" lengthAdjust="spacingAndGlyphs" stroke="#1c1c2c" stroke-width=".22">CUSTOMERS</text><text x="340.0" y="691.7" font-size="9.2" fill="#1c1c2c" font-weight="normal" textLength="73.01" lengthAdjust="spacingAndGlyphs" stroke="#1c1c2c" stroke-width=".22">COMPETENCIES</text><path d="M244.57 406.16A17.6 17.6 0 0 1 259.15 385.72" fill="none" stroke="#4fe0c6" stroke-width="4.1"/><path d="M258.05 381.24L259.64 390.30L265.46 386.37Z" fill="#4fe0c6"/><path d="M267.92 386.56A17.6 17.6 0 0 1 278.33 409.41" fill="none" stroke="#4fe0c6" stroke-width="4.1"/><path d="M282.76 410.69L274.12 407.55L274.61 414.54Z" fill="#4fe0c6"/><path d="M273.21 416.58A17.6 17.6 0 0 1 248.22 414.18" fill="none" stroke="#4fe0c6" stroke-width="4.1"/><path d="M244.89 417.37L251.94 411.46L245.64 408.38Z" fill="#4fe0c6"/><circle cx="261.9" cy="401.1" r="5.7" fill="none" stroke="#4fe0c6" stroke-width="2"/><rect x="259.2" y="406.70000000000005" width="5.4" height="4.6" rx="1" fill="#4fe0c6"/><path d="M369.2 387.2H383.4L381 394.3H371.6Z" fill="#1f8db8"/><path d="M371.4 396.6H381.2L393.6 417.5Q395.8 423.4 389.5 423.4H363Q356.8 423.4 359 417.5Z" fill="#1f8db8"/><text x="376.3" y="417.2" font-size="14.5" fill="#ffffff" font-weight="bold" text-anchor="middle" >$</text><line x1="184.6" y1="485.4" x2="177" y2="472.7" stroke="#1b3fb4" stroke-width="1.8"/><line x1="184.6" y1="485.4" x2="200.9" y2="486" stroke="#1b3fb4" stroke-width="1.8"/><line x1="184.6" y1="485.4" x2="177" y2="498.2" stroke="#1b3fb4" stroke-width="1.8"/><circle cx="177" cy="472.7" r="5" fill="#1b3fb4"/><circle cx="192.1" cy="472.7" r="5" fill="#1b3fb4"/><circle cx="168.6" cy="486" r="5" fill="#1b3fb4"/><circle cx="200.9" cy="486" r="5" fill="#1b3fb4"/><circle cx="177" cy="498.2" r="5" fill="#1b3fb4"/><circle cx="192.1" cy="498.2" r="5" fill="#1b3fb4"/><circle cx="184.6" cy="485.4" r="5.2" fill="#fff" stroke="#1b3fb4" stroke-width="2.1"/><rect x="428.1" y="471.7" width="14.6" height="5.4" fill="#8b9097"/><rect x="450.3" y="471.7" width="14.8" height="5.4" fill="#8b9097"/><path d="M428.1 480H465.1V499.5Q465.1 502.7 461.9 502.7H431.3Q428.1 502.7 428.1 499.5Z" fill="#8b9097"/><path d="M428.1 480H463.5V488.5L449 484.5L449 498.8H428.1Z" fill="#5b9bd1"/><path d="M449 486L463.5 489.5V498.8H449Z" fill="#7f98b0"/><rect x="442.7" y="479.5" width="7.6" height="5.2" fill="#f6f8fa"/><rect x="451" y="492" width="8.9" height="5.7" fill="#ffffff"/><path d="M176.31 581.50L178.37 581.30L179.53 578.14L183.72 579.03L183.50 582.39L185.30 583.41L186.90 584.73L189.95 583.31L192.29 586.90L189.75 589.12L190.30 591.11L190.50 593.17L193.66 594.33L192.77 598.52L189.41 598.30L188.39 600.10L187.07 601.70L188.49 604.75L184.90 607.09L182.68 604.55L180.69 605.10L178.63 605.30L177.47 608.46L173.28 607.57L173.50 604.21L171.70 603.19L170.10 601.87L167.05 603.29L164.71 599.70L167.25 597.48L166.70 595.49L166.50 593.43L163.34 592.27L164.23 588.08L167.59 588.30L168.61 586.50L169.93 584.90L168.51 581.85L172.10 579.51L174.32 582.05ZM171.7 593.3a6.8 6.8 0 1 0 13.6 0a6.8 6.8 0 1 0 -13.6 0Z" fill="url(#gg)" fill-rule="evenodd" stroke="url(#gg)" stroke-width="1.2" stroke-linejoin="round"/><path d="M194.66 568.93L195.79 568.57L196.00 566.19L198.60 566.19L198.81 568.57L199.94 568.93L201.00 569.47L202.82 567.94L204.66 569.78L203.13 571.60L203.67 572.66L204.03 573.79L206.41 574.00L206.41 576.60L204.03 576.81L203.67 577.94L203.13 579.00L204.66 580.82L202.82 582.66L201.00 581.13L199.94 581.67L198.81 582.03L198.60 584.41L196.00 584.41L195.79 582.03L194.66 581.67L193.60 581.13L191.78 582.66L189.94 580.82L191.47 579.00L190.93 577.94L190.57 576.81L188.19 576.60L188.19 574.00L190.57 573.79L190.93 572.66L191.47 571.60L189.94 569.78L191.78 567.94L193.60 569.47ZM193.60000000000002 575.3a3.7 3.7 0 1 0 7.4 0a3.7 3.7 0 1 0 -7.4 0Z" fill="#8e9094" fill-rule="evenodd" stroke="#8e9094" stroke-width="1.2" stroke-linejoin="round"/><circle cx="445.6" cy="585" r="4.0" fill="none" stroke="#1b3fb4" stroke-width="2.2"/><circle cx="453.1" cy="575.8" r="3.1" fill="none" stroke="#1b3fb4" stroke-width="1.9"/><path d="M424.2 588.9H431.3V591.5L447 595.2Q452.6 596.3 452.2 599.6L450 595.6L457.5 590.4L460 591.2L462.3 590.4L464.5 591.6L466.5 591.2Q469.6 592.4 468.3 595L451 608Q448.5 609.2 445 608.6L431.3 606.4V609H424.2Z" fill="#1b3fb4"/><path d="M439.2 601Q448 601.5 452 598.6Q454.6 596 451.2 593.8" fill="none" stroke="#fafbfc" stroke-width="1.9" stroke-linecap="round"/><circle cx="262.4" cy="649.5" r="9.4" fill="#1b8fc6"/><path d="M243.6 676V670Q243.6 662 253 662H272Q281.2 662 281.2 670V676Z" fill="#1b8fc6"/><path d="M258 661.6H267L263.9 669.8L266.2 676.4H258.8L261.1 669.8Z" fill="#f6f8fa"/><path d="M376.2 654V658H364.3V662M376.2 658H388.7V662" fill="none" stroke="#4fe0c6" stroke-width="1.8"/><rect x="366.2" y="640.8" width="20.099999999999977" height="12.000000000000068" rx="1" fill="#ffffff" stroke="#4fe0c6" stroke-width="2.8"/><rect x="355.5" y="662.9" width="17.499999999999954" height="11.499999999999954" rx="1" fill="#ffffff" stroke="#4fe0c6" stroke-width="2.8"/><rect x="380.0" y="662.9" width="17.499999999999954" height="11.499999999999954" rx="1" fill="#ffffff" stroke="#4fe0c6" stroke-width="2.8"/><circle cx="964" cy="421.5" r="207" fill="none" stroke="#d4dfe9" stroke-width="19.5"/><ellipse cx="963.8" cy="208.9" rx="73" ry="68.6" fill="#0f9be0"/><g clip-path="url(#b0c)"><ellipse cx="963.8" cy="208.9" rx="70.8" ry="66.39999999999999" fill="none" stroke="url(#b0h)" stroke-width="4.6" filter="url(#bb)"/></g><ellipse cx="1146.4" cy="314.7" rx="68.5" ry="67.7" fill="#17536a"/><g clip-path="url(#b1c)"><ellipse cx="1146.4" cy="314.7" rx="66.3" ry="65.5" fill="none" stroke="url(#b1h)" stroke-width="4.6" filter="url(#bb)"/></g><ellipse cx="1146.4" cy="525.6" rx="68.5" ry="68" fill="#963f6c"/><g clip-path="url(#b2c)"><ellipse cx="1146.4" cy="525.6" rx="66.3" ry="65.8" fill="none" stroke="url(#b2h)" stroke-width="4.6" filter="url(#bb)"/></g><ellipse cx="964" cy="630.6" rx="68" ry="68.2" fill="#9a659c"/><g clip-path="url(#b3c)"><ellipse cx="964" cy="630.6" rx="65.8" ry="66.0" fill="none" stroke="url(#b3h)" stroke-width="4.6" filter="url(#bb)"/></g><ellipse cx="781.5" cy="525.6" rx="68.5" ry="68" fill="#ae8c3e"/><g clip-path="url(#b4c)"><ellipse cx="781.5" cy="525.6" rx="66.3" ry="65.8" fill="none" stroke="url(#b4h)" stroke-width="4.6" filter="url(#bb)"/></g><ellipse cx="781.5" cy="315" rx="68.5" ry="67.3" fill="#5b8fc4"/><g clip-path="url(#b5c)"><ellipse cx="781.5" cy="315" rx="66.3" ry="65.1" fill="none" stroke="url(#b5h)" stroke-width="4.6" filter="url(#bb)"/></g><ellipse cx="963.8" cy="421.5" rx="97" ry="97.8" fill="#9be3fb"/><g clip-path="url(#bcc)"><ellipse cx="963.8" cy="421.5" rx="94.8" ry="95.6" fill="none" stroke="url(#bch)" stroke-width="4.6" filter="url(#bb)"/></g><text x="948.36" y="204.1" font-size="14.6" fill="#ffffff" font-weight="bold" textLength="29.08" lengthAdjust="spacingAndGlyphs" >Risk</text><text x="915.12" y="223" font-size="14.6" fill="#ffffff" font-weight="bold" textLength="96.3" lengthAdjust="spacingAndGlyphs" >Management</text><text x="1111.9" y="319.8" font-size="14.6" fill="#ffffff" font-weight="bold" textLength="68.52" lengthAdjust="spacingAndGlyphs" >Valuation</text><text x="1100.46" y="520.3" font-size="14.6" fill="#ffffff" font-weight="bold" textLength="59.21" lengthAdjust="spacingAndGlyphs" >Mergers</text><text x="1164.6" y="520.3" font-size="14.6" fill="#ffffff" font-weight="bold" textLength="26.99" lengthAdjust="spacingAndGlyphs" >and</text><text x="1103.0" y="539.2" font-size="14.6" fill="#ffffff" font-weight="bold" textLength="88.89" lengthAdjust="spacingAndGlyphs" >Acquisitions</text><text x="927.46" y="616.8" font-size="14.6" fill="#ffffff" font-weight="bold" textLength="75.04" lengthAdjust="spacingAndGlyphs" >Budgeting</text><text x="950.5" y="635.7" font-size="14.6" fill="#ffffff" font-weight="bold" textLength="26.68" lengthAdjust="spacingAndGlyphs" >and</text><text x="922.29" y="654.6" font-size="14.6" fill="#ffffff" font-weight="bold" textLength="83.74" lengthAdjust="spacingAndGlyphs" >Forecasting</text><text x="755.7" y="520.3" font-size="14.6" fill="#ffffff" font-weight="bold" textLength="52.51" lengthAdjust="spacingAndGlyphs" >Raising</text><text x="757.4" y="539.2" font-size="14.6" fill="#ffffff" font-weight="bold" textLength="50.08" lengthAdjust="spacingAndGlyphs" >Capital</text><text x="747.33" y="299.7" font-size="14.6" fill="#ffffff" font-weight="bold" textLength="66.53" lengthAdjust="spacingAndGlyphs" >Informed</text><text x="750.49" y="318.6" font-size="14.6" fill="#ffffff" font-weight="bold" textLength="61.34" lengthAdjust="spacingAndGlyphs" >Decision</text><text x="754.38" y="337.5" font-size="14.6" fill="#ffffff" font-weight="bold" textLength="56.46" lengthAdjust="spacingAndGlyphs" >Making</text><text x="923.74" y="412.3" font-size="21.5" fill="#ffffff" font-weight="normal" textLength="51.9" lengthAdjust="spacingAndGlyphs" stroke="#fff" stroke-width=".7">Uses</text><text x="983.24" y="412.3" font-size="21.5" fill="#ffffff" font-weight="normal" textLength="20.89" lengthAdjust="spacingAndGlyphs" stroke="#fff" stroke-width=".7">of</text><text x="900.94" y="441.3" font-size="21.5" fill="#ffffff" font-weight="normal" textLength="47.0" lengthAdjust="spacingAndGlyphs" stroke="#fff" stroke-width=".7">Cost</text><text x="954.99" y="441.3" font-size="21.5" fill="#ffffff" font-weight="normal" textLength="73.47" lengthAdjust="spacingAndGlyphs" stroke="#fff" stroke-width=".7">Model</text><g clip-path="url(#lg)"><text x="1079.95" y="701.6" font-size="44.3" fill="#1ba3e0" font-weight="bold" textLength="124.23" lengthAdjust="spacingAndGlyphs" >imarc</text></g><circle cx="1087.2" cy="664.7" r="3.45" fill="#1ba3e0"/><rect x="1205.8" y="678.4" width="1.6" height="22.6" fill="#111"/><text x="1212.4" y="687.8" font-size="8.2" fill="#1a1a1a" font-weight="bold" textLength="46.01" lengthAdjust="spacingAndGlyphs" >IMPACTFUL</text><text x="1212.4" y="697.3" font-size="8.2" fill="#1a1a1a" font-weight="bold" textLength="38.57" lengthAdjust="spacingAndGlyphs" >INSIGHTS</text></svg>
</body></html>
